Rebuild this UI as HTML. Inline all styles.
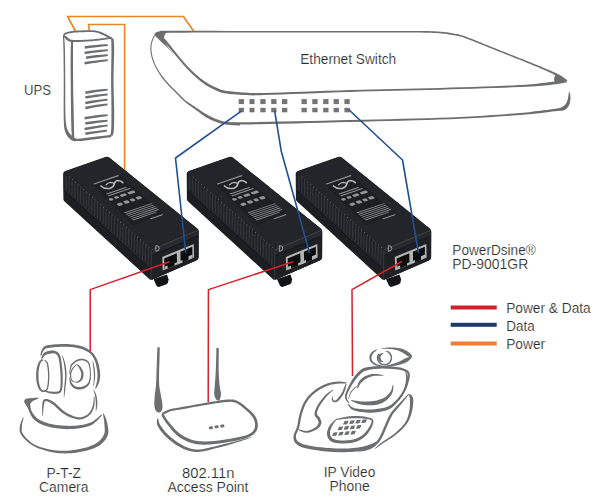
<!DOCTYPE html>
<html><head><meta charset="utf-8">
<style>
html,body{margin:0;padding:0;background:#fff;}
body{width:600px;height:502px;overflow:hidden;position:relative;}
svg{position:absolute;left:0;top:0;}
text{font-family:"Liberation Sans",sans-serif;fill:#2b2b2b;stroke:#fff;stroke-width:0.18px;}
</style></head>
<body>
<svg width="600" height="502" viewBox="0 0 600 502">
<defs>
<g id="inj">
  <!-- tab -->
  <path d="M153.5,279 L167,274.5 L168.6,279.5 Q168.3,283.3 166.5,284.2 L159.5,286.8 Q157.6,287.3 156.4,285.5 Z" fill="#131416"/>
  <!-- silhouette -->
  <path d="M63.2,173.5 Q63.3,171.6 65.5,170.9 L105.5,157.0 Q108,156.3 110,158 L197.4,228.5 Q198.7,229.6 198.7,231.5 L198.6,257.3 Q198.5,259.7 196.2,260.4 L153,279.3 Q151,280.3 149.5,279.2 L64.6,201.5 Q63.4,200.5 63.4,199 Z" fill="#1c1e22"/>
  <!-- top face -->
  <path d="M64.2,172.4 Q64.5,171.5 66,171 L105.5,157.3 Q107.8,156.7 109.6,158.2 L197.1,228.8 Q198,229.5 196.8,230 L152.5,249.1 Q151.4,249.5 150.5,248.8 L64.8,173.8 Q63.9,173.1 64.2,172.4 Z" fill="#23252a"/>
  <!-- label sticker darker -->
  <path d="M91.5,183.8 L119,175.3 L162.5,212.8 L133.5,225.5 Z" fill="#1d1f23"/>
  <!-- ribbed band -->
  <path d="M63.5,173.5 L151.4,249.4 L151,268 L63.6,188.5 Z" fill="#202227"/>
  <path d="M66.3,175.6L66.4,190.1M69.2,178.1L69.2,192.6M72.0,180.6L72.1,195.2M74.8,183.2L74.9,197.8M77.7,185.7L77.7,200.3M80.5,188.2L80.5,202.9M83.3,190.7L83.3,205.5M86.2,193.2L86.2,208.0M89.0,195.7L89.0,210.6M91.9,198.2L91.8,213.1M94.7,200.7L94.6,215.7M97.5,203.3L97.4,218.3M100.4,205.8L100.3,220.8M103.2,208.3L103.1,223.4M106.0,210.8L105.9,226.0M108.9,213.3L108.7,228.5M111.7,215.8L111.5,231.1M114.5,218.3L114.3,233.7M117.4,220.8L117.2,236.2M120.2,223.4L120.0,238.8M123.0,225.9L122.8,241.4M125.9,228.4L125.6,243.9M128.7,230.9L128.4,246.5M131.6,233.4L131.3,249.0M134.4,235.9L134.1,251.6M137.2,238.4L136.9,254.2M140.1,240.9L139.7,256.7M142.9,243.5L142.5,259.3M145.7,246.0L145.4,261.9M148.6,248.5L148.2,264.4" stroke="#373a40" stroke-width="0.9" fill="none"/>
  <path d="M69.2,176.8l0.8,0.7M72.0,179.3l0.8,0.7M74.8,181.9l0.8,0.7M77.7,184.4l0.8,0.7M80.5,186.9l0.8,0.7M83.3,189.4l0.8,0.7M86.2,191.9l0.8,0.7M89.0,194.4l0.8,0.7M91.9,196.9l0.8,0.7M94.7,199.4l0.8,0.7M97.5,202.0l0.8,0.7M100.4,204.5l0.8,0.7M103.2,207.0l0.8,0.7M106.0,209.5l0.8,0.7M108.9,212.0l0.8,0.7M111.7,214.5l0.8,0.7M114.5,217.0l0.8,0.7M117.4,219.5l0.8,0.7M120.2,222.1l0.8,0.7M123.0,224.6l0.8,0.7M125.9,227.1l0.8,0.7M128.7,229.6l0.8,0.7M131.6,232.1l0.8,0.7M134.4,234.6l0.8,0.7M137.2,237.1l0.8,0.7M140.1,239.6l0.8,0.7M142.9,242.2l0.8,0.7M145.7,244.7l0.8,0.7M148.6,247.2l0.8,0.7" stroke="#767980" stroke-width="0.9" fill="none"/>
  <!-- ledge -->
  <path d="M63.6,188.8 L151,268.3" stroke="#2f3237" stroke-width="0.9" fill="none"/>
  <path d="M63.6,190 L151,269.5" stroke="#141518" stroke-width="0.9" fill="none"/>
  <!-- end face -->
  <path d="M151.4,249.4 L197.4,229.7 Q198.7,229.8 198.7,231.5 L198.6,257.3 Q198.5,259.7 196.2,260.4 L152.5,279.6 Q151,279.8 151,278.5 Z" fill="#1e2024"/>
  <path d="M151.6,250 L198.2,230.3 L198.3,235.6 L151.7,255.5 Z" fill="#26292e"/>
  <path d="M151.6,249.8 L198.2,230.1" stroke="#50535a" stroke-width="0.7" fill="none"/>
  <path d="M151.7,255.8 L198.3,235.9" stroke="#121316" stroke-width="0.7" fill="none"/>
  <path d="M151.3,249.4 L151,279" stroke="#3b3e44" stroke-width="0.8" fill="none"/>
  <!-- D mark -->
  <path d="M155.8,245.6 L155.9,251.3 M155.9,245.6 Q159.3,245.5 159.3,248.3 Q159.3,251.1 155.9,251.3" stroke="#a6a8ac" stroke-width="0.9" fill="none"/>
  <!-- ports -->
  <path d="M162.3,256.9 L193.8,243.9 L194.1,257.6 L162.7,270.4 Z" fill="#b4b6b4"/>
  <path d="M164.2,258.4 L176.8,253.2 L177.1,264.6 L164.5,269.8 Z" fill="#0c0d0f"/>
  <path d="M180.4,251.7 L192.3,246.8 L192.5,258.3 L180.6,263.2 Z" fill="#0c0d0f"/>
  <path d="M164.5,266.8 L167.6,265.5 L167.7,268.6 L164.6,269.8 Z" fill="#b4b6b4"/>
  <path d="M174.5,263.2 L182.5,259.9 L182.6,262.4 L174.6,265.6 Z" fill="#b4b6b4"/>
  <path d="M188.5,256.2 L192.5,254.6 L192.5,258.3 L188.5,259.9 Z" fill="#b4b6b4"/>
  <path d="M101,186 Q104,189.2 110,188.3 Q113.8,187.2 114.4,183.4 Q115.4,180.6 118,180.5 Q121,180.7 122.8,182.6" fill="none" stroke="#b3b6ba" stroke-width="1.7" stroke-linecap="round"/>
  <path d="M106,184.8 Q108,182.4 111,182.3 Q113.3,182.4 114,183.6" fill="none" stroke="#b3b6ba" stroke-width="1.3" stroke-linecap="round"/>
  <!-- label contents (local coords on top face) -->
  <g transform="matrix(0.946,-0.3226,0.7513,0.659,63.5,171.5)" fill="#929498">
    <rect x="12" y="24.3" width="26.5" height="1.4"/>
    <rect x="13" y="40" width="21" height="1.3"/>
    <rect x="13" y="42.6" width="23" height="1.3"/>
    <rect x="10" y="46.5" width="4" height="3.2" rx="1.4"/>
    <rect x="16" y="46.5" width="4" height="3.2" rx="1"/>
    <rect x="22" y="46.5" width="6" height="3.2" rx="1"/>
    <rect x="30" y="46.5" width="7" height="3.2" rx="1"/>
    <rect x="12" y="55" width="5" height="3.6" rx="1.5"/>
    <rect x="19" y="55" width="5" height="3.6" rx="1"/>
    <rect x="26" y="55" width="4" height="3.6" rx="1"/>
    <rect x="32" y="55" width="5" height="3.6" rx="1"/>
    <rect x="10.5" y="67.5" width="29" height="0.9"/>
    <rect x="10.5" y="69.7" width="29" height="0.9"/>
    <rect x="10.5" y="71.9" width="29" height="0.9"/>
    <rect x="10.5" y="74.1" width="29" height="0.9"/>
    <rect x="10.5" y="76.3" width="29" height="0.9"/>
    <rect x="10.5" y="78.5" width="25" height="0.9"/>
    <rect x="25" y="83.5" width="13" height="1.2"/>
  </g>
</g>
</defs>

<!-- orange power lines -->
<g fill="none" stroke="#ec8624" stroke-width="1.7">
  <path d="M75.6,31.5 L67.7,16.5 L183.5,16.5 L193.5,31"/>
  <path d="M89.4,31 L88.5,24.5 L124.6,24.5 L124.6,171"/>
</g>

<!-- DEVICES -->
<path d="M62.90,35.53 L62.95,36.55 L63.01,37.78 L63.08,39.24 L63.16,40.91 L63.24,42.83 L63.32,44.98 L63.39,47.37 L63.45,50.02 L63.50,53.02 L63.55,56.42 L63.60,60.12 L63.64,64.04 L63.68,68.07 L63.71,72.14 L63.73,76.15 L63.75,80.00 L63.76,83.86 L63.75,87.87 L63.73,91.95 L63.71,96.00 L63.69,99.92 L63.68,103.63 L63.67,107.02 L63.68,110.01 L63.69,112.58 L63.70,114.80 L63.72,116.75 L63.74,118.47 L63.78,120.01 L63.82,121.43 L63.88,122.77 L63.95,124.10 L64.04,125.35 L64.13,126.46 L64.23,127.44 L64.35,128.34 L64.50,129.18 L64.67,129.97 L64.87,130.75 L65.10,131.54 L65.38,132.35 L65.69,133.14 L66.04,133.89 L66.41,134.62 L66.81,135.31 L67.24,135.96 L67.67,136.58 L68.14,137.17 L68.62,137.75 L69.13,138.31 L69.67,138.83 L70.23,139.32 L70.81,139.78 L71.41,140.18 L72.04,140.52 L72.72,140.82 L73.47,141.04 L74.26,141.14 L75.04,141.16 L75.77,141.13 L76.45,141.06 L77.04,140.98 L77.52,140.92 L77.88,140.89 L78.12,139.71 L77.77,139.54 L77.32,139.32 L76.79,139.06 L76.23,138.77 L75.66,138.47 L75.13,138.15 L74.67,137.85 L74.28,137.58 L73.90,137.30 L73.47,137.00 L73.03,136.69 L72.59,136.36 L72.14,136.02 L71.70,135.65 L71.28,135.25 L70.86,134.83 L70.46,134.37 L70.05,133.89 L69.66,133.38 L69.27,132.86 L68.90,132.31 L68.55,131.73 L68.22,131.12 L67.90,130.46 L67.60,129.79 L67.33,129.14 L67.07,128.48 L66.83,127.78 L66.61,127.01 L66.41,126.12 L66.22,125.10 L66.05,123.90 L65.89,122.62 L65.77,121.31 L65.66,119.92 L65.57,118.41 L65.50,116.71 L65.43,114.77 L65.38,112.55 L65.32,109.99 L65.29,107.01 L65.27,103.62 L65.26,99.92 L65.26,96.00 L65.27,91.96 L65.27,87.88 L65.27,83.86 L65.25,80.00 L65.23,76.14 L65.20,72.13 L65.18,68.06 L65.15,64.02 L65.11,60.11 L65.07,56.40 L65.02,53.00 L64.95,49.98 L64.86,47.32 L64.76,44.92 L64.63,42.75 L64.51,40.84 L64.38,39.15 L64.26,37.70 L64.17,36.48 L64.10,35.47Z" fill="#6d6e70"/>
<path d="M64.05,36.45 L64.12,36.34 L64.20,36.19 L64.30,36.03 L64.41,35.87 L64.52,35.70 L64.64,35.55 L64.75,35.41 L64.87,35.28 L65.01,35.11 L65.14,34.94 L65.24,34.81 L65.33,34.71 L65.42,34.63 L65.54,34.54 L65.71,34.44 L65.96,34.32 L66.31,34.19 L66.74,34.04 L67.22,33.89 L67.76,33.74 L68.33,33.59 L68.92,33.44 L69.54,33.31 L70.17,33.18 L70.77,33.07 L71.32,32.97 L71.85,32.88 L72.41,32.80 L73.06,32.72 L73.83,32.65 L74.78,32.57 L75.95,32.50 L77.43,32.42 L79.23,32.33 L81.23,32.24 L83.35,32.16 L85.46,32.09 L87.48,32.04 L89.29,32.00 L90.79,32.00 L92.00,32.02 L93.01,32.06 L93.85,32.12 L94.58,32.20 L95.22,32.29 L95.83,32.41 L96.45,32.53 L97.10,32.68 L97.74,32.84 L98.33,33.02 L98.89,33.21 L99.42,33.42 L99.95,33.65 L100.49,33.89 L101.04,34.14 L101.61,34.39 L102.19,34.65 L102.78,34.93 L103.37,35.22 L103.97,35.51 L104.57,35.81 L105.15,36.11 L105.72,36.40 L106.26,36.67 L106.79,36.93 L107.31,37.19 L107.81,37.44 L108.29,37.67 L108.74,37.90 L109.16,38.12 L109.54,38.33 L109.88,38.52 L110.18,38.71 L110.46,38.90 L110.73,39.09 L110.97,39.28 L111.20,39.46 L111.41,39.63 L111.59,39.79 L111.75,39.91 L112.85,38.69 L112.74,38.57 L112.60,38.40 L112.41,38.20 L112.19,37.96 L111.93,37.69 L111.63,37.42 L111.29,37.14 L110.92,36.88 L110.52,36.63 L110.09,36.39 L109.64,36.15 L109.16,35.91 L108.67,35.67 L108.17,35.43 L107.65,35.18 L107.14,34.93 L106.60,34.66 L106.04,34.37 L105.45,34.07 L104.85,33.76 L104.24,33.46 L103.62,33.16 L103.00,32.87 L102.39,32.61 L101.81,32.36 L101.25,32.13 L100.68,31.90 L100.10,31.68 L99.50,31.46 L98.87,31.27 L98.20,31.08 L97.50,30.92 L96.82,30.78 L96.17,30.65 L95.51,30.53 L94.80,30.42 L94.01,30.34 L93.11,30.27 L92.05,30.22 L90.81,30.20 L89.27,30.20 L87.43,30.24 L85.40,30.29 L83.28,30.36 L81.16,30.45 L79.15,30.53 L77.34,30.62 L75.85,30.70 L74.66,30.78 L73.68,30.85 L72.87,30.93 L72.18,31.01 L71.57,31.10 L71.00,31.20 L70.44,31.30 L69.83,31.42 L69.18,31.54 L68.52,31.68 L67.89,31.83 L67.28,31.99 L66.70,32.15 L66.17,32.32 L65.68,32.50 L65.24,32.68 L64.85,32.87 L64.51,33.09 L64.23,33.32 L64.01,33.56 L63.84,33.79 L63.72,33.99 L63.63,34.15 L63.53,34.32 L63.40,34.55 L63.28,34.80 L63.19,35.06 L63.12,35.29 L63.06,35.51 L63.01,35.70 L62.98,35.85 L62.95,35.95Z" fill="#6d6e70"/>
<path d="M63.66,35.79 L63.72,35.95 L63.79,36.17 L63.89,36.43 L64.00,36.72 L64.13,37.04 L64.30,37.37 L64.49,37.70 L64.71,38.00 L64.93,38.28 L65.17,38.57 L65.44,38.87 L65.74,39.19 L66.09,39.51 L66.47,39.82 L66.90,40.13 L67.32,40.38 L67.59,40.55 L67.81,40.71 L68.13,40.96 L68.60,41.26 L69.21,41.53 L69.95,41.72 L70.87,41.86 L72.03,41.95 L73.51,41.99 L75.29,41.99 L77.29,41.96 L79.45,41.90 L81.69,41.82 L83.92,41.72 L86.07,41.61 L88.05,41.50 L89.95,41.37 L91.86,41.21 L93.76,41.03 L95.62,40.83 L97.41,40.64 L99.11,40.44 L100.68,40.26 L102.10,40.09 L103.40,39.94 L104.57,39.77 L105.64,39.61 L106.60,39.46 L107.47,39.32 L108.24,39.20 L108.93,39.10 L109.55,39.02 L110.06,38.98 L110.47,38.95 L110.79,38.94 L111.05,38.95 L111.27,38.96 L111.48,38.99 L111.70,39.02 L111.89,39.04 L112.11,38.16 L111.99,38.10 L111.85,38.00 L111.66,37.87 L111.39,37.73 L111.04,37.59 L110.60,37.47 L110.08,37.40 L109.45,37.38 L108.76,37.41 L108.02,37.48 L107.21,37.59 L106.34,37.71 L105.38,37.85 L104.33,38.00 L103.17,38.16 L101.90,38.31 L100.47,38.47 L98.90,38.65 L97.21,38.85 L95.43,39.05 L93.59,39.25 L91.71,39.43 L89.82,39.58 L87.95,39.70 L85.98,39.79 L83.85,39.87 L81.63,39.94 L79.41,39.98 L77.27,39.99 L75.29,39.98 L73.56,39.93 L72.17,39.85 L71.16,39.73 L70.47,39.57 L70.05,39.40 L69.83,39.24 L69.67,39.08 L69.46,38.85 L69.12,38.53 L68.68,38.22 L68.31,37.99 L68.00,37.78 L67.72,37.56 L67.43,37.33 L67.15,37.09 L66.87,36.85 L66.58,36.61 L66.29,36.40 L66.01,36.22 L65.74,36.05 L65.46,35.88 L65.19,35.72 L64.93,35.57 L64.70,35.43 L64.50,35.31 L64.34,35.21Z" fill="#6d6e70"/>
<path d="M70.95,41.49 L70.92,42.83 L70.87,44.54 L70.82,46.56 L70.76,48.86 L70.71,51.39 L70.66,54.12 L70.62,57.01 L70.60,60.00 L70.60,63.20 L70.61,66.70 L70.63,70.41 L70.66,74.29 L70.69,78.25 L70.73,82.24 L70.76,86.18 L70.80,90.01 L70.83,93.86 L70.87,97.82 L70.91,101.84 L70.95,105.83 L70.99,109.73 L71.04,113.44 L71.09,116.90 L71.15,120.03 L71.22,122.90 L71.31,125.60 L71.40,128.11 L71.50,130.42 L71.59,132.48 L71.68,134.29 L71.75,135.82 L71.80,137.04 L74.20,136.96 L74.17,135.74 L74.14,134.21 L74.11,132.40 L74.06,130.33 L74.02,128.03 L73.97,125.53 L73.91,122.83 L73.85,119.97 L73.78,116.85 L73.70,113.39 L73.61,109.68 L73.52,105.79 L73.42,101.80 L73.34,97.79 L73.26,93.82 L73.20,89.99 L73.15,86.16 L73.11,82.22 L73.08,78.24 L73.06,74.27 L73.04,70.40 L73.02,66.69 L73.01,63.20 L73.00,60.00 L72.99,57.02 L73.00,54.14 L73.00,51.42 L73.01,48.89 L73.02,46.59 L73.04,44.57 L73.04,42.86 L73.05,41.51Z" fill="#6d6e70"/>
<path d="M111.10,38.57 L111.13,39.34 L111.18,40.23 L111.24,41.25 L111.30,42.46 L111.36,43.89 L111.40,45.60 L111.44,47.62 L111.45,50.00 L111.44,52.85 L111.40,56.17 L111.34,59.87 L111.28,63.81 L111.21,67.91 L111.15,72.05 L111.12,76.11 L111.10,80.00 L111.11,83.83 L111.15,87.75 L111.21,91.72 L111.27,95.65 L111.34,99.51 L111.39,103.23 L111.43,106.75 L111.45,110.01 L111.45,113.08 L111.44,116.03 L111.42,118.85 L111.39,121.50 L111.35,123.96 L111.30,126.20 L111.23,128.19 L111.15,129.91 L111.05,131.29 L110.91,132.34 L110.77,133.12 L110.62,133.70 L110.48,134.13 L110.33,134.52 L110.17,134.93 L110.05,135.34 L112.35,136.06 L112.44,135.78 L112.58,135.51 L112.79,135.08 L113.04,134.50 L113.29,133.75 L113.51,132.79 L113.71,131.58 L113.85,130.09 L113.95,128.31 L114.03,126.28 L114.09,124.02 L114.13,121.54 L114.16,118.87 L114.17,116.04 L114.17,113.08 L114.15,109.99 L114.11,106.71 L114.02,103.18 L113.92,99.45 L113.80,95.60 L113.69,91.66 L113.59,87.71 L113.53,83.81 L113.50,80.00 L113.53,76.14 L113.60,72.09 L113.71,67.96 L113.82,63.87 L113.94,59.92 L114.05,56.23 L114.12,52.88 L114.15,50.00 L114.13,47.58 L114.06,45.51 L113.97,43.76 L113.86,42.29 L113.75,41.06 L113.64,40.04 L113.56,39.18 L113.50,38.43Z" fill="#6d6e70"/>
<path d="M73.42,140.40 L73.85,140.46 L74.35,140.56 L74.97,140.68 L75.72,140.81 L76.59,140.92 L77.61,141.00 L78.77,141.04 L80.08,141.00 L81.58,140.89 L83.26,140.72 L85.10,140.50 L87.05,140.25 L89.07,139.98 L91.12,139.71 L93.16,139.44 L95.15,139.19 L97.22,138.94 L99.49,138.66 L101.85,138.37 L104.18,138.08 L106.41,137.80 L108.41,137.55 L110.09,137.35 L111.35,137.19 L111.05,134.81 L109.79,134.96 L108.11,135.17 L106.11,135.42 L103.89,135.70 L101.55,135.99 L99.20,136.28 L96.93,136.55 L94.85,136.81 L92.86,137.06 L90.81,137.32 L88.76,137.58 L86.74,137.83 L84.80,138.07 L82.99,138.29 L81.34,138.47 L79.92,138.60 L78.70,138.69 L77.64,138.73 L76.72,138.73 L75.91,138.72 L75.21,138.69 L74.59,138.65 L74.04,138.62 L73.58,138.60Z" fill="#6d6e70"/>
<path d="M84.95,48.63 L87.93,48.25 L92.18,47.72 L96.42,47.21 L100.65,46.75 L104.90,46.31 L107.87,46.01 L107.73,44.19 L104.74,44.35 L100.47,44.58 L96.18,44.89 L91.90,45.32 L87.63,45.82 L84.65,46.17Z" fill="#6d6e70"/>
<path d="M84.67,54.12 L87.69,53.70 L91.99,53.09 L96.28,52.51 L100.57,51.98 L104.87,51.46 L107.88,51.11 L107.72,49.29 L104.69,49.50 L100.36,49.81 L96.02,50.19 L91.68,50.70 L87.35,51.27 L84.33,51.68Z" fill="#6d6e70"/>
<path d="M86.17,58.92 L88.99,58.52 L93.02,57.96 L97.03,57.41 L101.04,56.91 L105.06,56.44 L107.88,56.11 L107.72,54.29 L104.88,54.48 L100.83,54.75 L96.77,55.09 L92.71,55.56 L88.66,56.10 L85.83,56.48Z" fill="#6d6e70"/>
<path d="M84.69,64.52 L87.71,64.04 L92.01,63.36 L96.30,62.71 L100.59,62.10 L104.89,61.51 L107.90,61.10 L107.70,59.30 L104.67,59.56 L100.34,59.94 L96.00,60.39 L91.66,60.97 L87.33,61.62 L84.31,62.08Z" fill="#6d6e70"/>
<path d="M85.50,93.92 L88.39,93.44 L92.51,92.76 L96.61,92.11 L100.71,91.50 L104.82,90.91 L107.70,90.50 L107.50,88.70 L104.59,88.96 L100.45,89.34 L96.29,89.79 L92.14,90.37 L88.00,91.02 L85.10,91.48Z" fill="#6d6e70"/>
<path d="M85.49,98.62 L88.38,98.17 L92.50,97.53 L96.60,96.91 L100.70,96.34 L104.81,95.79 L107.70,95.40 L107.50,93.60 L104.60,93.83 L100.46,94.18 L96.30,94.59 L92.15,95.14 L88.01,95.75 L85.11,96.18Z" fill="#6d6e70"/>
<path d="M85.51,104.22 L88.40,103.70 L92.52,102.97 L96.63,102.26 L100.73,101.59 L104.84,100.95 L107.72,100.50 L107.48,98.70 L104.58,99.00 L100.43,99.44 L96.27,99.94 L92.12,100.58 L87.98,101.29 L85.09,101.78Z" fill="#6d6e70"/>
<path d="M85.53,109.21 L88.42,108.66 L92.54,107.87 L96.64,107.10 L100.74,106.39 L104.85,105.69 L107.73,105.20 L107.47,103.40 L104.57,103.74 L100.42,104.23 L96.26,104.80 L92.10,105.49 L87.96,106.25 L85.07,106.79Z" fill="#6d6e70"/>
<path d="M84.80,119.52 L87.78,119.03 L92.03,118.33 L96.26,117.66 L100.49,117.03 L104.73,116.43 L107.71,116.00 L107.49,114.20 L104.50,114.47 L100.23,114.87 L95.94,115.34 L91.66,115.94 L87.39,116.61 L84.40,117.08Z" fill="#6d6e70"/>
<path d="M85.48,124.72 L88.37,124.28 L92.49,123.66 L96.60,123.06 L100.70,122.51 L104.81,121.98 L107.69,121.61 L107.51,119.79 L104.61,120.02 L100.46,120.34 L96.30,120.74 L92.15,121.27 L88.01,121.86 L85.12,122.28Z" fill="#6d6e70"/>
<path d="M84.81,130.22 L87.79,129.69 L92.04,128.93 L96.28,128.21 L100.51,127.52 L104.75,126.86 L107.72,126.40 L107.48,124.60 L104.49,124.91 L100.21,125.37 L95.92,125.89 L91.64,126.55 L87.37,127.27 L84.39,127.78Z" fill="#6d6e70"/>
<path d="M85.50,135.02 L88.31,134.54 L92.32,133.86 L96.32,133.21 L100.30,132.60 L104.30,132.01 L107.11,131.60 L106.89,129.80 L104.07,130.06 L100.03,130.44 L95.98,130.89 L91.94,131.48 L87.91,132.12 L85.10,132.58Z" fill="#6d6e70"/>
<path d="M155.56,35.70 L155.94,35.52 L156.40,35.28 L156.90,35.02 L157.45,34.75 L158.06,34.48 L158.72,34.22 L159.44,33.99 L160.32,33.78 L161.16,33.48 L161.41,31.34 L161.15,31.24 L160.61,33.16 L160.97,33.08 L162.49,32.97 L165.38,32.88 L170.01,32.79 L176.52,32.71 L184.61,32.65 L194.00,32.60 L204.38,32.57 L215.46,32.54 L226.95,32.51 L238.56,32.49 L250.00,32.47 L261.75,32.45 L274.30,32.44 L287.35,32.44 L300.62,32.44 L313.82,32.44 L326.64,32.45 L338.80,32.46 L350.00,32.47 L360.53,32.48 L370.78,32.49 L380.64,32.49 L390.00,32.50 L398.73,32.52 L406.72,32.54 L413.84,32.58 L419.99,32.62 L424.94,32.68 L428.69,32.74 L431.49,32.81 L433.59,32.88 L435.23,32.97 L436.67,33.07 L438.16,33.19 L439.94,33.32 L441.82,33.47 L443.49,33.64 L445.01,33.82 L446.43,34.01 L447.77,34.21 L449.10,34.43 L450.45,34.67 L451.86,34.91 L453.24,35.13 L454.47,35.31 L455.63,35.47 L456.79,35.66 L458.03,35.90 L459.44,36.24 L461.09,36.70 L463.05,37.33 L465.38,38.15 L468.03,39.14 L470.91,40.27 L473.96,41.49 L477.11,42.76 L480.28,44.05 L483.41,45.31 L486.42,46.52 L489.33,47.67 L492.25,48.83 L495.16,49.99 L498.07,51.16 L500.98,52.32 L503.89,53.48 L506.80,54.65 L509.71,55.82 L512.66,56.99 L515.65,58.18 L518.65,59.37 L521.65,60.56 L524.61,61.75 L527.50,62.91 L530.30,64.05 L532.99,65.16 L535.61,66.26 L538.22,67.37 L540.78,68.47 L543.25,69.54 L545.61,70.58 L547.81,71.56 L549.81,72.47 L551.59,73.30 L553.09,74.03 L554.32,74.67 L555.34,75.24 L556.22,75.75 L557.00,76.23 L557.76,76.69 L558.54,77.16 L559.40,77.65 L560.33,78.16 L561.29,78.68 L562.27,79.20 L563.22,79.71 L564.11,80.19 L564.90,80.62 L565.58,80.98 L566.09,81.25 L566.91,79.95 L566.44,79.61 L565.83,79.16 L565.10,78.61 L564.28,78.01 L563.40,77.38 L562.47,76.74 L561.53,76.12 L560.60,75.55 L559.75,75.06 L558.96,74.61 L558.16,74.19 L557.31,73.75 L556.36,73.29 L555.26,72.78 L553.96,72.19 L552.41,71.50 L550.60,70.71 L548.56,69.83 L546.34,68.89 L543.96,67.89 L541.46,66.85 L538.88,65.79 L536.25,64.71 L533.61,63.64 L530.91,62.55 L528.10,61.42 L525.19,60.27 L522.23,59.10 L519.23,57.92 L516.22,56.73 L513.23,55.55 L510.29,54.38 L507.37,53.22 L504.46,52.06 L501.55,50.90 L498.64,49.73 L495.73,48.57 L492.82,47.40 L489.90,46.24 L486.98,45.08 L483.98,43.89 L480.86,42.62 L477.69,41.34 L474.54,40.06 L471.47,38.84 L468.58,37.71 L465.91,36.71 L463.55,35.87 L461.54,35.22 L459.84,34.73 L458.38,34.36 L457.08,34.09 L455.88,33.88 L454.71,33.70 L453.49,33.51 L452.14,33.29 L450.73,33.04 L449.38,32.80 L448.03,32.58 L446.66,32.37 L445.22,32.17 L443.67,31.99 L441.96,31.83 L440.06,31.68 L438.29,31.54 L436.80,31.42 L435.33,31.32 L433.66,31.23 L431.54,31.15 L428.72,31.08 L424.96,31.03 L420.01,30.98 L413.85,30.94 L406.72,30.92 L398.73,30.91 L390.00,30.91 L380.64,30.91 L370.78,30.92 L360.53,30.93 L350.00,30.93 L338.80,30.93 L326.64,30.93 L313.82,30.93 L300.62,30.93 L287.35,30.94 L274.30,30.94 L261.75,30.94 L250.00,30.93 L238.56,30.92 L226.95,30.90 L215.46,30.87 L204.37,30.85 L193.99,30.82 L184.61,30.81 L176.51,30.80 L169.99,30.81 L165.35,30.82 L162.43,30.83 L160.84,30.84 L160.02,30.90 L159.46,32.99 L159.61,33.10 L159.91,31.21 L159.68,31.22 L158.76,31.41 L157.84,31.69 L157.02,32.00 L156.30,32.33 L155.68,32.65 L155.16,32.94 L154.76,33.15 L154.44,33.30Z" fill="#6d6e70"/>
<path d="M154.72,35.78 L155.10,35.97 L155.60,36.21 L156.17,36.50 L156.81,36.82 L157.46,37.16 L158.11,37.52 L158.72,37.88 L159.29,38.24 L159.85,38.60 L160.37,38.91 L160.85,39.21 L161.33,39.52 L161.85,39.91 L162.46,40.40 L163.18,41.06 L164.03,41.90 L165.05,42.97 L166.20,44.24 L167.46,45.68 L168.80,47.23 L170.18,48.84 L171.57,50.48 L172.93,52.09 L174.24,53.63 L175.50,55.13 L176.75,56.66 L178.00,58.19 L179.25,59.73 L180.51,61.26 L181.76,62.77 L183.01,64.24 L184.27,65.66 L185.52,67.04 L186.77,68.38 L188.02,69.70 L189.27,70.98 L190.51,72.24 L191.76,73.46 L193.01,74.66 L194.26,75.82 L195.51,76.95 L196.77,78.06 L198.02,79.13 L199.28,80.18 L200.53,81.19 L201.79,82.17 L203.06,83.11 L204.32,84.00 L205.59,84.85 L206.86,85.66 L208.13,86.42 L209.39,87.15 L210.66,87.84 L211.93,88.49 L213.19,89.11 L214.45,89.70 L215.62,90.25 L216.71,90.76 L217.77,91.25 L218.89,91.72 L220.09,92.16 L221.44,92.57 L222.99,92.95 L224.77,93.30 L226.84,93.62 L229.15,93.90 L231.64,94.15 L234.27,94.37 L236.97,94.57 L239.69,94.74 L242.36,94.89 L244.93,95.01 L246.97,95.12 L248.38,95.22 L249.57,95.30 L250.90,95.36 L252.74,95.38 L255.45,95.35 L259.41,95.26 L265.03,95.10 L272.52,94.85 L281.60,94.50 L291.93,94.09 L303.16,93.63 L314.94,93.16 L326.91,92.69 L338.72,92.26 L350.03,91.88 L361.10,91.56 L372.40,91.27 L383.84,91.00 L395.33,90.75 L406.78,90.50 L418.11,90.24 L429.22,89.97 L440.03,89.68 L450.85,89.36 L461.90,89.03 L472.96,88.68 L483.78,88.33 L494.13,87.97 L503.79,87.63 L512.50,87.30 L520.05,86.99 L526.29,86.70 L531.41,86.44 L535.60,86.19 L539.09,85.94 L542.08,85.70 L544.78,85.45 L547.39,85.20 L550.16,84.92 L552.99,84.61 L555.64,84.26 L558.10,83.89 L560.33,83.53 L562.32,83.17 L564.05,82.86 L565.51,82.59 L566.68,82.40 L566.32,80.00 L565.13,80.16 L563.65,80.36 L561.91,80.60 L559.92,80.86 L557.71,81.15 L555.28,81.45 L552.65,81.76 L549.84,82.08 L547.08,82.41 L544.47,82.75 L541.80,83.12 L538.85,83.49 L535.41,83.88 L531.26,84.26 L526.18,84.64 L519.95,85.01 L512.42,85.38 L503.71,85.76 L494.07,86.14 L483.72,86.51 L472.90,86.88 L461.85,87.24 L450.79,87.59 L439.97,87.92 L429.17,88.23 L418.07,88.51 L406.74,88.77 L395.29,89.03 L383.80,89.28 L372.36,89.55 L361.06,89.82 L349.97,90.12 L338.66,90.46 L326.84,90.85 L314.87,91.26 L303.09,91.67 L291.86,92.06 L281.52,92.41 L272.45,92.70 L264.97,92.90 L259.36,93.02 L255.41,93.08 L252.74,93.08 L250.97,93.04 L249.72,92.96 L248.57,92.86 L247.14,92.73 L245.07,92.59 L242.50,92.44 L239.85,92.26 L237.15,92.06 L234.48,91.84 L231.89,91.59 L229.45,91.32 L227.20,91.02 L225.23,90.70 L223.56,90.36 L222.15,90.01 L220.94,89.64 L219.86,89.24 L218.85,88.81 L217.83,88.35 L216.74,87.84 L215.55,87.30 L214.31,86.74 L213.07,86.16 L211.84,85.55 L210.61,84.91 L209.37,84.24 L208.14,83.54 L206.91,82.79 L205.68,82.00 L204.44,81.16 L203.21,80.27 L201.97,79.35 L200.72,78.38 L199.48,77.38 L198.23,76.34 L196.99,75.28 L195.74,74.18 L194.49,73.06 L193.24,71.91 L191.99,70.73 L190.73,69.52 L189.48,68.27 L188.23,66.99 L186.98,65.68 L185.73,64.34 L184.49,62.95 L183.24,61.51 L181.99,60.03 L180.75,58.52 L179.50,56.98 L178.25,55.44 L177.00,53.90 L175.76,52.37 L174.50,50.80 L173.20,49.15 L171.88,47.45 L170.58,45.77 L169.31,44.15 L168.10,42.63 L166.98,41.27 L165.97,40.10 L165.09,39.15 L164.34,38.38 L163.66,37.75 L163.05,37.23 L162.46,36.79 L161.89,36.43 L161.33,36.10 L160.71,35.76 L159.96,35.40 L159.16,35.11 L158.35,34.87 L157.57,34.68 L156.84,34.53 L156.20,34.41 L155.67,34.31 L155.28,34.22Z" fill="#6d6e70"/>
<path d="M154.09,34.84 L153.84,35.44 L153.48,36.26 L153.04,37.23 L152.57,38.31 L152.10,39.47 L151.65,40.64 L151.26,41.79 L150.96,42.88 L150.75,43.89 L150.59,44.90 L150.46,45.90 L150.38,46.90 L150.34,47.91 L150.34,48.94 L150.38,49.98 L150.45,51.05 L150.57,52.15 L150.73,53.27 L150.94,54.41 L151.18,55.56 L151.46,56.72 L151.77,57.88 L152.11,59.03 L152.48,60.17 L152.87,61.31 L153.30,62.45 L153.76,63.58 L154.25,64.72 L154.78,65.86 L155.33,66.99 L155.91,68.13 L156.52,69.27 L157.17,70.42 L157.87,71.60 L158.61,72.78 L159.37,73.96 L160.15,75.13 L160.93,76.26 L161.71,77.36 L162.47,78.40 L163.21,79.37 L163.93,80.29 L164.65,81.16 L165.37,82.00 L166.11,82.83 L166.87,83.67 L167.67,84.54 L168.52,85.45 L169.43,86.41 L170.39,87.39 L171.39,88.39 L172.42,89.40 L173.46,90.42 L174.50,91.44 L175.53,92.46 L176.53,93.47 L177.51,94.47 L178.46,95.49 L179.41,96.52 L180.37,97.55 L181.34,98.58 L182.35,99.60 L183.40,100.61 L184.51,101.59 L185.67,102.55 L186.88,103.48 L188.13,104.39 L189.39,105.28 L190.67,106.16 L191.94,107.04 L193.20,107.92 L194.43,108.81 L195.65,109.72 L196.87,110.66 L198.09,111.61 L199.32,112.57 L200.55,113.51 L201.80,114.42 L203.05,115.30 L204.32,116.13 L205.58,116.90 L206.84,117.64 L208.11,118.34 L209.37,119.00 L210.64,119.64 L211.92,120.24 L213.19,120.80 L214.46,121.33 L215.70,121.81 L216.89,122.26 L218.07,122.67 L219.27,123.05 L220.51,123.40 L221.83,123.72 L223.24,124.02 L224.77,124.30 L226.56,124.55 L228.61,124.78 L230.80,124.97 L233.02,125.14 L235.16,125.28 L237.10,125.40 L238.72,125.51 L239.90,125.60 L240.10,123.40 L238.90,123.28 L237.28,123.13 L235.35,122.95 L233.23,122.74 L231.04,122.51 L228.89,122.26 L226.91,121.99 L225.23,121.70 L223.79,121.40 L222.47,121.08 L221.25,120.74 L220.10,120.39 L218.99,120.00 L217.88,119.59 L216.73,119.15 L215.54,118.67 L214.31,118.17 L213.08,117.64 L211.86,117.08 L210.63,116.50 L209.39,115.88 L208.16,115.24 L206.92,114.57 L205.68,113.87 L204.45,113.14 L203.20,112.36 L201.95,111.54 L200.68,110.68 L199.41,109.81 L198.13,108.93 L196.85,108.05 L195.57,107.19 L194.27,106.34 L192.97,105.50 L191.66,104.67 L190.36,103.84 L189.08,103.01 L187.84,102.16 L186.64,101.30 L185.49,100.41 L184.41,99.49 L183.37,98.54 L182.36,97.57 L181.38,96.58 L180.41,95.57 L179.45,94.56 L178.47,93.54 L177.47,92.53 L176.45,91.53 L175.41,90.51 L174.37,89.49 L173.33,88.47 L172.32,87.46 L171.33,86.47 L170.38,85.49 L169.48,84.55 L168.64,83.64 L167.85,82.78 L167.10,81.95 L166.38,81.13 L165.67,80.30 L164.97,79.45 L164.26,78.56 L163.53,77.60 L162.76,76.59 L161.97,75.52 L161.17,74.42 L160.38,73.29 L159.60,72.14 L158.85,70.99 L158.14,69.85 L157.48,68.73 L156.87,67.62 L156.30,66.51 L155.76,65.39 L155.25,64.28 L154.77,63.17 L154.32,62.05 L153.91,60.94 L153.52,59.83 L153.16,58.71 L152.83,57.58 L152.53,56.45 L152.26,55.32 L152.02,54.20 L151.82,53.09 L151.66,52.01 L151.55,50.95 L151.48,49.92 L151.44,48.92 L151.45,47.94 L151.49,46.97 L151.57,46.01 L151.69,45.06 L151.85,44.09 L152.04,43.12 L152.29,42.10 L152.64,40.99 L153.05,39.83 L153.49,38.69 L153.93,37.60 L154.33,36.62 L154.67,35.79 L154.91,35.16Z" fill="#6d6e70"/>
<path d="M224.98,124.30 L226.39,124.32 L227.69,124.38 L229.21,124.44 L231.23,124.50 L234.03,124.54 L237.89,124.55 L243.13,124.51 L250.02,124.40 L258.93,124.22 L269.75,123.98 L282.03,123.70 L295.34,123.38 L309.23,123.03 L323.27,122.68 L337.01,122.33 L350.02,121.99 L362.73,121.67 L375.73,121.35 L388.84,121.03 L401.90,120.70 L414.72,120.35 L427.14,119.99 L438.97,119.60 L450.04,119.18 L460.47,118.72 L470.48,118.22 L480.04,117.69 L489.12,117.14 L497.70,116.59 L505.73,116.04 L513.20,115.50 L520.08,114.99 L526.31,114.48 L531.90,113.96 L536.91,113.44 L541.38,112.93 L545.39,112.45 L548.98,111.99 L552.22,111.57 L555.16,111.20 L557.63,110.94 L559.52,110.79 L560.98,110.71 L562.13,110.64 L563.13,110.51 L564.07,110.26 L564.98,109.84 L565.94,109.22 L566.93,108.35 L567.77,107.29 L568.45,106.14 L568.99,104.95 L569.42,103.74 L569.76,102.55 L570.04,101.41 L570.28,100.33 L570.44,99.19 L570.48,97.99 L570.43,96.80 L570.31,95.66 L570.17,94.61 L570.02,93.67 L569.90,92.89 L569.83,92.31 L569.17,92.29 L569.07,92.89 L568.97,93.68 L568.84,94.61 L568.69,95.64 L568.51,96.70 L568.29,97.76 L568.03,98.75 L567.72,99.67 L567.38,100.64 L567.01,101.69 L566.62,102.75 L566.20,103.77 L565.74,104.71 L565.23,105.54 L564.69,106.22 L564.06,106.78 L563.44,107.21 L562.94,107.49 L562.45,107.69 L561.75,107.86 L560.71,108.02 L559.27,108.21 L557.35,108.45 L554.84,108.80 L551.90,109.24 L548.67,109.72 L545.10,110.24 L541.12,110.78 L536.67,111.34 L531.69,111.90 L526.13,112.46 L519.92,113.01 L513.06,113.57 L505.60,114.14 L497.57,114.73 L489.00,115.32 L479.93,115.89 L470.38,116.44 L460.38,116.96 L449.96,117.42 L438.90,117.83 L427.08,118.21 L414.67,118.54 L401.85,118.85 L388.80,119.15 L375.68,119.43 L362.68,119.72 L349.98,120.01 L336.96,120.32 L323.22,120.64 L309.18,120.96 L295.29,121.27 L281.98,121.56 L269.70,121.82 L258.89,122.04 L249.98,122.20 L243.10,122.30 L237.89,122.33 L234.04,122.33 L231.27,122.29 L229.29,122.23 L227.78,122.17 L226.45,122.12 L225.02,122.10Z" fill="#6d6e70"/>
<path d="M154.3,34.7 Q156,32.6 160,32.1 L168,31.6 Q164,33.6 164,38.5 Q164.6,44 170,49.5 L175.2,55 L168,48.2 Q160,41 154.3,34.7 Z" fill="#6d6e70"/>
<path d="M556,74.3 Q562,77.6 567.6,80.9 Q562,82.6 555.3,83 Q552.6,79 556,74.3 Z" fill="#6d6e70"/>
<path d="M568.8,91.5 Q570.5,96 570,101 Q569.5,106.5 565,108.8 Q562,110 556,110.5 L530,113.2 L530,112 L556,109.3 Q565,107.5 567.6,101 Q569,96.5 568.8,91.5 Z" fill="#6d6e70"/>
<path d="M41.26,355.68 L41.46,355.20 L41.72,354.56 L42.01,353.80 L42.34,352.98 L42.71,352.15 L43.10,351.38 L43.50,350.72 L43.93,350.18 L44.35,349.70 L44.72,349.26 L45.02,348.96 L45.29,348.75 L45.63,348.57 L46.17,348.37 L46.98,348.15 L48.14,347.93 L49.72,347.70 L51.68,347.47 L53.92,347.26 L56.34,347.07 L58.84,346.91 L61.31,346.80 L63.65,346.75 L65.78,346.75 L67.74,346.82 L69.68,346.93 L71.56,347.10 L73.39,347.32 L75.15,347.57 L76.82,347.85 L78.40,348.17 L79.86,348.51 L81.21,348.87 L82.45,349.28 L83.60,349.72 L84.68,350.19 L85.69,350.69 L86.65,351.22 L87.56,351.76 L88.41,352.30 L89.19,352.84 L89.87,353.37 L90.49,353.91 L91.05,354.47 L91.57,355.06 L92.06,355.69 L92.55,356.38 L93.03,357.11 L93.49,357.89 L93.92,358.70 L94.32,359.54 L94.70,360.42 L95.05,361.34 L95.37,362.30 L95.68,363.30 L95.96,364.34 L96.23,365.45 L96.49,366.64 L96.72,367.90 L96.93,369.18 L97.11,370.47 L97.26,371.73 L97.38,372.94 L97.45,374.06 L97.49,375.11 L97.48,376.13 L97.44,377.11 L97.37,378.08 L97.27,379.02 L97.16,379.94 L97.02,380.85 L96.88,381.73 L96.72,382.62 L96.50,383.55 L96.24,384.50 L95.97,385.44 L95.69,386.32 L95.44,387.12 L95.22,387.80 L95.06,388.32 L95.94,388.68 L96.19,388.22 L96.54,387.61 L96.97,386.88 L97.43,386.06 L97.91,385.16 L98.37,384.22 L98.79,383.24 L99.12,382.27 L99.37,381.32 L99.59,380.37 L99.79,379.38 L99.94,378.36 L100.06,377.31 L100.14,376.22 L100.17,375.10 L100.15,373.94 L100.08,372.72 L99.95,371.43 L99.78,370.10 L99.57,368.76 L99.33,367.41 L99.05,366.10 L98.75,364.84 L98.44,363.66 L98.10,362.55 L97.73,361.49 L97.34,360.46 L96.92,359.48 L96.47,358.53 L95.99,357.61 L95.49,356.73 L94.97,355.89 L94.44,355.09 L93.91,354.33 L93.36,353.60 L92.77,352.90 L92.12,352.22 L91.42,351.56 L90.64,350.92 L89.79,350.30 L88.88,349.68 L87.92,349.07 L86.90,348.47 L85.81,347.88 L84.63,347.32 L83.36,346.79 L82.00,346.32 L80.54,345.89 L78.98,345.52 L77.32,345.18 L75.57,344.88 L73.74,344.62 L71.83,344.41 L69.87,344.24 L67.87,344.12 L65.82,344.05 L63.63,344.04 L61.22,344.09 L58.70,344.19 L56.16,344.33 L53.69,344.52 L51.39,344.74 L49.35,344.99 L47.66,345.27 L46.33,345.59 L45.28,345.94 L44.43,346.36 L43.77,346.86 L43.27,347.41 L42.92,347.95 L42.63,348.45 L42.27,349.02 L41.84,349.76 L41.47,350.64 L41.17,351.57 L40.91,352.50 L40.69,353.39 L40.51,354.19 L40.37,354.85 L40.24,355.32Z" fill="#6d6e70"/>
<path d="M92.53,361.05 L92.60,361.58 L92.70,362.28 L92.81,363.10 L92.94,364.02 L93.07,365.01 L93.19,366.03 L93.30,367.06 L93.40,368.07 L93.48,369.09 L93.57,370.17 L93.66,371.28 L93.74,372.42 L93.81,373.57 L93.86,374.72 L93.89,375.86 L93.89,376.98 L93.86,378.15 L93.80,379.41 L93.70,380.71 L93.60,382.01 L93.48,383.23 L93.38,384.34 L93.29,385.27 L93.23,385.97 L93.77,386.03 L93.88,385.34 L94.05,384.43 L94.25,383.34 L94.47,382.12 L94.68,380.83 L94.87,379.51 L95.02,378.23 L95.11,377.02 L95.14,375.86 L95.14,374.69 L95.10,373.51 L95.04,372.33 L94.95,371.18 L94.85,370.05 L94.73,368.97 L94.60,367.93 L94.45,366.90 L94.25,365.86 L94.03,364.84 L93.80,363.86 L93.57,362.95 L93.36,362.15 L93.19,361.47 L93.07,360.95Z" fill="#6d6e70"/>
<path d="M93.25,389.60 L93.40,390.11 L93.61,390.77 L93.86,391.56 L94.13,392.43 L94.40,393.36 L94.66,394.32 L94.89,395.26 L95.08,396.16 L95.22,397.07 L95.36,398.03 L95.48,399.03 L95.58,400.04 L95.67,401.07 L95.75,402.08 L95.81,403.06 L95.86,404.00 L95.89,404.95 L95.89,405.94 L95.87,406.95 L95.85,407.95 L95.81,408.88 L95.78,409.72 L95.75,410.43 L95.73,410.97 L96.27,411.03 L96.36,410.50 L96.50,409.81 L96.67,408.98 L96.85,408.05 L97.03,407.06 L97.18,406.03 L97.29,404.99 L97.34,404.00 L97.35,403.01 L97.32,401.99 L97.26,400.95 L97.18,399.89 L97.06,398.84 L96.92,397.80 L96.74,396.80 L96.52,395.84 L96.25,394.88 L95.89,393.92 L95.49,392.97 L95.07,392.07 L94.66,391.23 L94.29,390.49 L93.98,389.88 L93.75,389.40Z" fill="#6d6e70"/>
<path d="M41.66,359.88 L41.94,359.46 L42.29,358.87 L42.70,358.20 L43.16,357.47 L43.65,356.75 L44.16,356.10 L44.66,355.57 L45.11,355.21 L45.58,354.94 L46.14,354.68 L46.77,354.46 L47.46,354.25 L48.17,354.08 L48.89,353.92 L49.60,353.78 L50.28,353.66 L50.90,353.55 L51.51,353.46 L52.10,353.38 L52.66,353.34 L53.20,353.32 L53.70,353.34 L54.16,353.39 L54.59,353.49 L55.01,353.62 L55.41,353.80 L55.80,354.00 L56.17,354.24 L56.52,354.51 L56.85,354.83 L57.16,355.20 L57.46,355.62 L57.73,356.09 L57.97,356.57 L58.19,357.10 L58.39,357.70 L58.58,358.39 L58.76,359.19 L58.94,360.11 L59.13,361.17 L59.33,362.40 L59.52,363.80 L59.71,365.32 L59.89,366.94 L60.05,368.60 L60.20,370.27 L60.32,371.90 L60.42,373.46 L60.50,375.00 L60.56,376.60 L60.60,378.20 L60.63,379.80 L60.63,381.34 L60.61,382.79 L60.56,384.13 L60.49,385.32 L60.40,386.39 L60.31,387.34 L60.21,388.18 L60.08,388.91 L59.92,389.53 L59.73,390.05 L59.51,390.47 L59.25,390.82 L58.95,391.09 L58.59,391.28 L58.16,391.43 L57.65,391.54 L57.06,391.61 L56.40,391.66 L55.70,391.69 L54.97,391.72 L54.22,391.74 L53.38,391.72 L52.48,391.68 L51.56,391.60 L50.64,391.51 L49.75,391.39 L48.93,391.27 L48.23,391.15 L47.61,391.01 L47.01,390.84 L46.43,390.63 L45.88,390.41 L45.37,390.18 L44.91,389.97 L44.52,389.78 L44.20,389.65 L43.80,390.35 L44.06,390.54 L44.38,390.81 L44.78,391.13 L45.25,391.49 L45.78,391.87 L46.38,392.24 L47.05,392.57 L47.77,392.85 L48.56,393.07 L49.42,393.27 L50.35,393.45 L51.32,393.61 L52.30,393.74 L53.26,393.83 L54.18,393.88 L55.03,393.88 L55.79,393.85 L56.54,393.81 L57.29,393.74 L58.04,393.62 L58.78,393.43 L59.49,393.14 L60.16,392.72 L60.75,392.18 L61.22,391.54 L61.58,390.86 L61.85,390.12 L62.04,389.33 L62.19,388.48 L62.31,387.56 L62.41,386.57 L62.51,385.48 L62.60,384.24 L62.66,382.86 L62.70,381.36 L62.72,379.79 L62.72,378.17 L62.69,376.54 L62.65,374.92 L62.58,373.34 L62.48,371.75 L62.35,370.09 L62.20,368.40 L62.03,366.71 L61.84,365.07 L61.65,363.52 L61.45,362.09 L61.27,360.83 L61.09,359.73 L60.93,358.76 L60.76,357.89 L60.59,357.10 L60.39,356.37 L60.15,355.68 L59.87,355.02 L59.54,354.38 L59.16,353.76 L58.73,353.19 L58.25,352.67 L57.74,352.21 L57.20,351.81 L56.63,351.46 L56.04,351.16 L55.41,350.91 L54.74,350.71 L54.05,350.57 L53.33,350.49 L52.61,350.45 L51.89,350.46 L51.16,350.52 L50.43,350.61 L49.72,350.74 L49.00,350.90 L48.23,351.08 L47.42,351.30 L46.59,351.57 L45.77,351.90 L44.96,352.30 L44.20,352.79 L43.49,353.39 L42.89,354.14 L42.42,354.99 L42.04,355.89 L41.73,356.79 L41.47,357.65 L41.26,358.43 L41.08,359.07 L40.94,359.52Z" fill="#6d6e70"/>
<path d="M43.33,359.43 L43.06,359.51 L42.68,359.58 L42.20,359.66 L41.63,359.79 L41.01,360.01 L40.37,360.35 L39.74,360.85 L39.19,361.51 L38.74,362.27 L38.32,363.13 L37.92,364.09 L37.55,365.13 L37.21,366.25 L36.91,367.42 L36.66,368.62 L36.46,369.86 L36.31,371.15 L36.21,372.55 L36.15,374.01 L36.13,375.50 L36.15,376.99 L36.21,378.45 L36.32,379.85 L36.46,381.14 L36.65,382.37 L36.89,383.58 L37.18,384.74 L37.50,385.86 L37.86,386.91 L38.26,387.88 L38.68,388.76 L39.14,389.54 L39.66,390.22 L40.24,390.81 L40.85,391.29 L41.50,391.66 L42.16,391.93 L42.82,392.09 L43.47,392.15 L44.09,392.11 L44.66,391.98 L45.23,391.79 L45.81,391.51 L46.38,391.12 L46.91,390.60 L47.39,389.94 L47.80,389.15 L48.15,388.20 L48.43,387.06 L48.68,385.72 L48.88,384.22 L49.06,382.61 L49.19,380.93 L49.29,379.23 L49.35,377.58 L49.37,376.00 L49.35,374.43 L49.29,372.78 L49.19,371.10 L49.05,369.43 L48.88,367.83 L48.67,366.33 L48.43,364.98 L48.15,363.82 L47.79,362.84 L47.34,362.02 L46.83,361.37 L46.31,360.87 L45.81,360.48 L45.37,360.17 L45.03,359.94 L44.79,359.72 L44.21,360.28 L44.46,360.57 L44.79,360.89 L45.16,361.23 L45.54,361.63 L45.92,362.10 L46.28,362.66 L46.59,363.34 L46.85,364.18 L47.08,365.25 L47.30,366.54 L47.50,368.00 L47.67,369.57 L47.82,371.20 L47.93,372.85 L48.00,374.46 L48.03,376.00 L48.01,377.54 L47.95,379.17 L47.86,380.84 L47.73,382.48 L47.56,384.06 L47.36,385.51 L47.12,386.77 L46.85,387.80 L46.55,388.59 L46.21,389.19 L45.85,389.65 L45.47,389.97 L45.09,390.20 L44.70,390.35 L44.30,390.45 L43.91,390.49 L43.55,390.49 L43.18,390.41 L42.77,390.27 L42.36,390.05 L41.96,389.77 L41.56,389.41 L41.20,388.97 L40.86,388.46 L40.53,387.83 L40.20,387.06 L39.89,386.19 L39.60,385.23 L39.33,384.20 L39.09,383.11 L38.90,381.99 L38.74,380.86 L38.62,379.65 L38.54,378.33 L38.48,376.93 L38.47,375.50 L38.49,374.07 L38.54,372.67 L38.62,371.35 L38.74,370.14 L38.90,369.01 L39.10,367.89 L39.34,366.80 L39.61,365.77 L39.91,364.80 L40.21,363.91 L40.52,363.13 L40.81,362.49 L41.08,362.02 L41.39,361.63 L41.76,361.30 L42.17,361.01 L42.59,360.76 L43.01,360.54 L43.39,360.35 L43.67,360.17Z" fill="#6d6e70"/>
<path d="M62.04,355.58 L62.19,356.21 L62.40,357.03 L62.65,358.00 L62.93,359.09 L63.21,360.27 L63.48,361.50 L63.73,362.76 L63.94,364.02 L64.13,365.32 L64.32,366.68 L64.51,368.09 L64.68,369.56 L64.83,371.07 L64.95,372.61 L65.03,374.19 L65.06,375.80 L65.02,377.50 L64.93,379.35 L64.78,381.27 L64.61,383.23 L64.43,385.15 L64.25,386.98 L64.10,388.67 L63.99,390.15 L63.93,391.44 L63.88,392.61 L63.85,393.67 L63.83,394.62 L63.82,395.45 L63.81,396.17 L63.81,396.78 L63.80,397.28 L64.20,397.32 L64.28,396.82 L64.37,396.22 L64.49,395.51 L64.62,394.68 L64.76,393.75 L64.91,392.70 L65.06,391.53 L65.21,390.25 L65.37,388.80 L65.58,387.13 L65.79,385.30 L66.01,383.37 L66.22,381.40 L66.38,379.45 L66.50,377.56 L66.54,375.80 L66.52,374.14 L66.44,372.52 L66.32,370.93 L66.16,369.39 L65.96,367.90 L65.75,366.46 L65.51,365.09 L65.26,363.78 L64.97,362.49 L64.62,361.21 L64.23,359.98 L63.82,358.82 L63.43,357.76 L63.07,356.82 L62.78,356.03 L62.56,355.42Z" fill="#6d6e70"/>
<path d="M69.87,374.04 L69.96,373.56 L70.08,372.91 L70.22,372.13 L70.38,371.28 L70.55,370.41 L70.73,369.56 L70.91,368.79 L71.09,368.13 L71.25,367.58 L71.38,367.08 L71.50,366.66 L71.62,366.30 L71.76,365.97 L71.94,365.64 L72.20,365.30 L72.55,364.90 L73.02,364.44 L73.60,363.93 L74.25,363.39 L74.96,362.86 L75.70,362.34 L76.44,361.87 L77.16,361.46 L77.83,361.14 L78.47,360.89 L79.13,360.69 L79.80,360.53 L80.46,360.41 L81.11,360.34 L81.75,360.32 L82.38,360.34 L82.97,360.40 L83.56,360.52 L84.17,360.69 L84.79,360.92 L85.39,361.20 L85.97,361.51 L86.51,361.84 L86.98,362.18 L87.37,362.52 L87.67,362.85 L87.92,363.21 L88.13,363.61 L88.31,364.05 L88.47,364.53 L88.61,365.04 L88.76,365.59 L88.91,366.15 L89.07,366.70 L89.20,367.26 L89.33,367.83 L89.44,368.41 L89.54,369.02 L89.63,369.65 L89.70,370.33 L89.76,371.04 L89.81,371.82 L89.84,372.70 L89.85,373.62 L89.85,374.57 L89.84,375.50 L89.82,376.38 L89.80,377.18 L89.76,377.85 L89.72,378.42 L89.65,378.91 L89.57,379.35 L89.48,379.74 L89.39,380.09 L89.31,380.40 L89.23,380.67 L89.18,380.90 L89.82,381.10 L89.90,380.90 L90.02,380.67 L90.16,380.37 L90.32,380.02 L90.48,379.60 L90.63,379.12 L90.75,378.57 L90.84,377.95 L90.89,377.23 L90.93,376.41 L90.95,375.51 L90.95,374.57 L90.94,373.61 L90.91,372.67 L90.88,371.77 L90.84,370.96 L90.79,370.23 L90.72,369.53 L90.65,368.87 L90.56,368.23 L90.46,367.61 L90.35,367.01 L90.22,366.42 L90.09,365.85 L89.96,365.29 L89.85,364.74 L89.73,364.19 L89.59,363.63 L89.41,363.07 L89.17,362.52 L88.84,361.98 L88.43,361.48 L87.94,361.02 L87.38,360.58 L86.77,360.18 L86.11,359.80 L85.41,359.47 L84.69,359.18 L83.96,358.96 L83.23,358.80 L82.50,358.71 L81.75,358.68 L81.00,358.71 L80.23,358.79 L79.46,358.92 L78.69,359.11 L77.93,359.36 L77.17,359.66 L76.40,360.04 L75.61,360.50 L74.81,361.03 L74.03,361.59 L73.28,362.18 L72.59,362.78 L71.97,363.35 L71.45,363.90 L71.04,364.41 L70.72,364.90 L70.48,365.38 L70.31,365.85 L70.19,366.32 L70.10,366.80 L70.01,367.30 L69.91,367.87 L69.79,368.57 L69.69,369.39 L69.60,370.27 L69.53,371.17 L69.47,372.04 L69.41,372.82 L69.37,373.48 L69.33,373.96Z" fill="#6d6e70"/>
<path d="M69.53,377.53 L69.53,377.89 L69.52,378.36 L69.50,378.93 L69.49,379.57 L69.49,380.25 L69.53,380.95 L69.60,381.63 L69.73,382.26 L69.90,382.83 L70.08,383.39 L70.30,383.95 L70.56,384.51 L70.86,385.06 L71.21,385.60 L71.62,386.12 L72.07,386.60 L72.57,387.05 L73.11,387.49 L73.70,387.91 L74.33,388.31 L75.02,388.67 L75.75,388.99 L76.52,389.23 L77.32,389.40 L78.15,389.49 L79.02,389.51 L79.92,389.48 L80.84,389.39 L81.75,389.25 L82.65,389.04 L83.52,388.78 L84.34,388.46 L85.12,388.07 L85.86,387.62 L86.58,387.11 L87.26,386.55 L87.89,385.95 L88.47,385.32 L88.98,384.67 L89.44,383.98 L89.80,383.20 L90.07,382.36 L90.25,381.49 L90.38,380.63 L90.46,379.83 L90.52,379.11 L90.57,378.51 L90.63,378.08 L89.97,377.92 L89.83,378.36 L89.65,378.95 L89.45,379.63 L89.22,380.38 L88.96,381.14 L88.66,381.86 L88.32,382.50 L87.96,383.02 L87.54,383.50 L87.06,384.00 L86.52,384.48 L85.94,384.94 L85.33,385.36 L84.71,385.74 L84.08,386.07 L83.46,386.34 L82.81,386.56 L82.09,386.74 L81.33,386.89 L80.55,387.00 L79.77,387.06 L79.02,387.08 L78.31,387.06 L77.68,387.00 L77.11,386.89 L76.55,386.73 L76.00,386.52 L75.45,386.26 L74.93,385.97 L74.42,385.66 L73.95,385.33 L73.53,385.00 L73.16,384.68 L72.83,384.33 L72.53,383.96 L72.24,383.55 L71.98,383.12 L71.73,382.67 L71.49,382.20 L71.27,381.74 L71.06,381.25 L70.87,380.69 L70.69,380.08 L70.53,379.45 L70.38,378.84 L70.26,378.29 L70.15,377.82 L70.07,377.47Z" fill="#6d6e70"/>
<path d="M76.48,364.65 L76.70,364.92 L77.01,365.25 L77.36,365.64 L77.74,366.08 L78.12,366.54 L78.49,367.03 L78.83,367.52 L79.12,368.03 L79.41,368.59 L79.73,369.22 L80.05,369.90 L80.36,370.59 L80.64,371.30 L80.87,371.99 L81.05,372.65 L81.16,373.27 L81.22,373.88 L81.23,374.53 L81.19,375.20 L81.12,375.88 L81.01,376.54 L80.86,377.16 L80.70,377.74 L80.52,378.25 L80.31,378.70 L80.06,379.14 L79.77,379.57 L79.44,379.97 L79.09,380.35 L78.72,380.69 L78.35,380.98 L78.01,381.22 L77.66,381.39 L77.24,381.51 L76.75,381.59 L76.23,381.63 L75.72,381.65 L75.24,381.65 L74.83,381.65 L74.52,381.66 L74.48,382.34 L74.77,382.38 L75.15,382.46 L75.63,382.57 L76.17,382.67 L76.75,382.75 L77.37,382.78 L77.99,382.73 L78.59,382.58 L79.14,382.35 L79.68,382.06 L80.21,381.72 L80.73,381.32 L81.23,380.86 L81.70,380.34 L82.12,379.77 L82.48,379.15 L82.77,378.49 L83.02,377.77 L83.23,377.02 L83.38,376.22 L83.49,375.41 L83.54,374.58 L83.52,373.75 L83.44,372.93 L83.26,372.11 L83.01,371.29 L82.70,370.48 L82.34,369.69 L81.95,368.94 L81.53,368.23 L81.11,367.57 L80.68,366.97 L80.21,366.42 L79.67,365.92 L79.11,365.49 L78.56,365.12 L78.04,364.81 L77.58,364.54 L77.20,364.33 L76.92,364.15Z" fill="#6d6e70"/>
<path d="M76.47,364.15 L76.21,364.37 L75.85,364.65 L75.43,364.99 L74.95,365.38 L74.45,365.80 L73.96,366.24 L73.49,366.70 L73.08,367.16 L72.71,367.63 L72.35,368.10 L72.01,368.60 L71.68,369.11 L71.38,369.64 L71.09,370.19 L70.84,370.74 L70.63,371.30 L70.44,371.88 L70.30,372.47 L70.18,373.07 L70.09,373.67 L70.03,374.28 L69.99,374.87 L69.98,375.46 L69.99,376.02 L70.02,376.58 L70.07,377.14 L70.15,377.71 L70.25,378.27 L70.38,378.82 L70.56,379.34 L70.78,379.84 L71.05,380.30 L71.42,380.72 L71.87,381.08 L72.35,381.38 L72.85,381.63 L73.32,381.84 L73.74,382.02 L74.09,382.17 L74.33,382.29 L74.67,381.71 L74.42,381.55 L74.08,381.35 L73.69,381.12 L73.27,380.87 L72.85,380.59 L72.47,380.30 L72.17,380.00 L71.95,379.70 L71.78,379.36 L71.63,378.96 L71.50,378.52 L71.40,378.04 L71.32,377.54 L71.27,377.02 L71.23,376.50 L71.21,375.98 L71.20,375.46 L71.22,374.92 L71.25,374.38 L71.31,373.83 L71.39,373.28 L71.49,372.73 L71.62,372.20 L71.77,371.70 L71.96,371.20 L72.17,370.70 L72.42,370.20 L72.69,369.71 L72.98,369.22 L73.29,368.75 L73.61,368.28 L73.92,367.84 L74.27,367.39 L74.66,366.94 L75.10,366.47 L75.54,366.02 L75.96,365.60 L76.35,365.22 L76.68,364.90 L76.93,364.65Z" fill="#6d6e70"/>
<path d="M25,400.6 Q31,398.6 38.6,397.9 Q33,400.4 30.4,403.2 Q29.8,406 31,409 L28.4,408 Q26,404 25,400.6 Z" fill="#6d6e70"/>
<path d="M38.23,397.76 L37.74,397.78 L37.08,397.79 L36.30,397.81 L35.43,397.83 L34.51,397.87 L33.56,397.92 L32.64,397.98 L31.80,398.07 L30.99,398.14 L30.09,398.19 L29.12,398.24 L28.13,398.33 L27.15,398.47 L26.19,398.73 L25.26,399.22 L24.49,400.09 L24.21,401.17 L24.33,402.14 L24.67,402.96 L25.11,403.72 L25.63,404.49 L26.19,405.31 L26.77,406.20 L27.34,407.20 L27.90,408.37 L28.49,409.78 L29.14,411.34 L29.86,413.01 L30.67,414.71 L31.61,416.38 L32.71,417.97 L33.98,419.38 L35.35,420.59 L36.79,421.69 L38.34,422.70 L40.00,423.63 L41.78,424.47 L43.68,425.24 L45.71,425.94 L47.89,426.57 L50.28,427.14 L52.89,427.67 L55.66,428.12 L58.54,428.51 L61.47,428.81 L64.40,429.02 L67.28,429.13 L70.03,429.12 L72.72,429.01 L75.45,428.80 L78.18,428.50 L80.87,428.10 L83.48,427.60 L85.98,426.99 L88.33,426.28 L90.52,425.45 L92.56,424.38 L94.45,423.06 L96.17,421.59 L97.72,420.08 L99.10,418.62 L100.28,417.29 L101.27,416.19 L102.06,415.40 L101.34,414.60 L100.44,415.31 L99.30,416.29 L97.97,417.45 L96.48,418.71 L94.85,419.96 L93.12,421.14 L91.32,422.16 L89.48,422.95 L87.49,423.59 L85.27,424.16 L82.89,424.65 L80.38,425.06 L77.80,425.40 L75.18,425.64 L72.55,425.80 L69.97,425.88 L67.35,425.86 L64.59,425.74 L61.76,425.53 L58.92,425.24 L56.14,424.88 L53.46,424.45 L50.97,423.96 L48.71,423.43 L46.67,422.86 L44.78,422.23 L43.04,421.55 L41.42,420.81 L39.93,420.01 L38.54,419.15 L37.23,418.21 L36.02,417.22 L34.93,416.12 L33.91,414.84 L32.97,413.41 L32.09,411.89 L31.29,410.35 L30.56,408.85 L29.88,407.45 L29.26,406.20 L28.68,405.12 L28.16,404.14 L27.71,403.27 L27.37,402.53 L27.17,401.93 L27.10,401.54 L27.13,401.41 L27.11,401.51 L27.06,401.56 L27.28,401.43 L27.82,401.24 L28.57,401.05 L29.45,400.88 L30.39,400.71 L31.33,400.53 L32.20,400.33 L33.01,400.11 L33.87,399.89 L34.76,399.68 L35.64,399.47 L36.49,399.27 L37.25,399.10 L37.89,398.95 L38.37,398.84Z" fill="#6d6e70"/>
<path d="M42.84,415.82 L42.94,414.79 L43.06,413.36 L43.21,411.64 L43.38,409.79 L43.56,407.91 L43.77,406.14 L43.99,404.62 L44.23,403.47 L44.45,402.63 L44.66,401.97 L44.84,401.51 L44.98,401.26 L45.07,401.17 L45.17,401.13 L45.39,401.09 L45.79,401.08 L46.31,401.14 L46.95,401.29 L47.68,401.53 L48.52,401.88 L49.43,402.33 L50.42,402.88 L51.48,403.54 L52.59,404.29 L53.77,405.21 L55.07,406.35 L56.46,407.67 L57.94,409.09 L59.48,410.53 L61.07,411.93 L62.71,413.23 L64.36,414.33 L66.03,415.28 L67.76,416.16 L69.54,416.98 L71.34,417.71 L73.13,418.33 L74.89,418.83 L76.59,419.19 L78.22,419.38 L79.79,419.38 L81.31,419.21 L82.77,418.89 L84.16,418.43 L85.48,417.87 L86.71,417.23 L87.84,416.51 L88.89,415.74 L89.85,414.87 L90.71,413.90 L91.48,412.83 L92.15,411.71 L92.74,410.54 L93.26,409.35 L93.70,408.14 L94.08,406.93 L94.36,405.62 L94.53,404.17 L94.61,402.68 L94.63,401.21 L94.60,399.81 L94.56,398.55 L94.53,397.50 L94.54,396.72 L93.86,396.68 L93.78,397.47 L93.70,398.53 L93.61,399.78 L93.50,401.16 L93.34,402.59 L93.14,404.00 L92.87,405.31 L92.52,406.47 L92.11,407.56 L91.65,408.68 L91.15,409.77 L90.59,410.83 L89.97,411.82 L89.28,412.74 L88.54,413.55 L87.71,414.26 L86.78,414.91 L85.75,415.52 L84.64,416.06 L83.47,416.53 L82.25,416.89 L80.99,417.14 L79.70,417.26 L78.38,417.22 L76.97,417.03 L75.45,416.67 L73.84,416.17 L72.17,415.55 L70.49,414.83 L68.82,414.03 L67.19,413.16 L65.64,412.27 L64.16,411.26 L62.65,410.05 L61.14,408.71 L59.63,407.30 L58.16,405.89 L56.72,404.54 L55.33,403.32 L54.01,402.31 L52.77,401.50 L51.60,400.82 L50.49,400.23 L49.43,399.76 L48.44,399.39 L47.50,399.12 L46.63,398.96 L45.81,398.92 L45.09,398.98 L44.40,399.16 L43.77,399.53 L43.28,400.06 L42.95,400.69 L42.72,401.38 L42.54,402.17 L42.37,403.13 L42.23,404.40 L42.15,406.01 L42.12,407.82 L42.11,409.73 L42.13,411.60 L42.15,413.32 L42.16,414.76 L42.16,415.78Z" fill="#6d6e70"/>
<path d="M22.91,417.38 L22.64,418.07 L22.25,419.00 L21.78,420.12 L21.27,421.37 L20.77,422.69 L20.32,424.05 L19.98,425.38 L19.79,426.61 L19.70,427.70 L19.62,428.74 L19.59,429.79 L19.66,430.87 L19.87,432.00 L20.26,433.16 L20.86,434.36 L21.68,435.59 L22.71,436.89 L23.92,438.29 L25.31,439.75 L26.87,441.23 L28.60,442.70 L30.46,444.10 L32.47,445.42 L34.61,446.59 L36.93,447.65 L39.47,448.66 L42.18,449.60 L45.02,450.47 L47.92,451.25 L50.85,451.92 L53.75,452.48 L56.56,452.91 L59.34,453.20 L62.15,453.35 L64.97,453.40 L67.78,453.33 L70.55,453.18 L73.29,452.94 L75.96,452.63 L78.55,452.26 L81.11,451.83 L83.70,451.31 L86.26,450.71 L88.76,450.03 L91.18,449.27 L93.47,448.43 L95.62,447.52 L97.57,446.52 L99.36,445.43 L100.99,444.24 L102.47,442.96 L103.80,441.60 L104.97,440.19 L105.99,438.73 L106.85,437.24 L107.56,435.70 L108.07,434.05 L108.33,432.36 L108.38,430.68 L108.28,429.04 L108.08,427.45 L107.82,425.92 L107.54,424.48 L107.27,423.09 L106.94,421.66 L106.50,420.18 L105.98,418.72 L105.44,417.32 L104.89,416.03 L104.40,414.88 L103.98,413.92 L103.69,413.19 L102.91,413.41 L103.04,414.20 L103.22,415.23 L103.43,416.46 L103.66,417.82 L103.89,419.26 L104.09,420.72 L104.24,422.14 L104.33,423.51 L104.42,424.91 L104.56,426.37 L104.68,427.83 L104.77,429.26 L104.77,430.65 L104.67,431.95 L104.44,433.16 L104.04,434.30 L103.48,435.48 L102.78,436.71 L101.95,437.93 L101.00,439.14 L99.92,440.31 L98.70,441.43 L97.33,442.50 L95.83,443.48 L94.12,444.40 L92.19,445.29 L90.07,446.13 L87.80,446.91 L85.43,447.63 L82.99,448.28 L80.52,448.85 L78.05,449.34 L75.55,449.76 L72.97,450.12 L70.32,450.41 L67.64,450.63 L64.93,450.75 L62.21,450.78 L59.51,450.70 L56.84,450.49 L54.11,450.16 L51.28,449.71 L48.41,449.16 L45.55,448.50 L42.76,447.74 L40.09,446.90 L37.62,445.99 L35.39,445.01 L33.37,443.92 L31.49,442.67 L29.73,441.30 L28.13,439.87 L26.67,438.42 L25.38,436.99 L24.26,435.63 L23.32,434.41 L22.63,433.34 L22.18,432.38 L21.90,431.49 L21.76,430.63 L21.72,429.75 L21.73,428.82 L21.78,427.83 L21.81,426.79 L21.88,425.68 L22.05,424.45 L22.31,423.13 L22.62,421.80 L22.94,420.51 L23.25,419.35 L23.51,418.36 L23.69,417.62Z" fill="#6d6e70"/>
<path d="M157.45,347.16 L157.41,348.16 L157.35,349.48 L157.29,351.06 L157.21,352.81 L157.13,354.66 L157.05,356.52 L156.98,358.31 L156.92,359.96 L156.86,361.49 L156.81,362.99 L156.76,364.47 L156.72,365.94 L156.67,367.42 L156.62,368.91 L156.57,370.42 L156.52,371.97 L156.46,373.57 L156.41,375.22 L156.36,376.91 L156.30,378.60 L156.24,380.28 L156.17,381.92 L156.08,383.50 L155.98,385.00 L155.85,386.40 L155.70,387.73 L155.54,389.00 L155.36,390.23 L155.19,391.45 L155.03,392.65 L154.88,393.87 L154.77,395.13 L154.66,396.44 L154.57,397.79 L154.48,399.16 L154.40,400.52 L154.34,401.83 L154.31,403.08 L154.32,404.23 L154.36,405.27 L154.44,406.21 L154.56,407.07 L154.72,407.84 L154.89,408.54 L155.09,409.16 L155.31,409.72 L155.53,410.22 L155.77,410.66 L156.03,411.04 L156.34,411.35 L156.68,411.62 L157.03,411.85 L157.37,412.06 L157.68,412.25 L157.94,412.43 L158.13,412.59 L159.47,412.61 L159.67,412.49 L159.94,412.35 L160.26,412.17 L160.62,411.94 L160.98,411.64 L161.31,411.28 L161.61,410.84 L161.83,410.34 L162.01,409.79 L162.16,409.22 L162.28,408.60 L162.38,407.95 L162.45,407.24 L162.48,406.48 L162.48,405.65 L162.44,404.73 L162.35,403.70 L162.19,402.55 L162.00,401.33 L161.78,400.05 L161.53,398.74 L161.29,397.42 L161.05,396.13 L160.83,394.87 L160.62,393.67 L160.40,392.49 L160.17,391.32 L159.94,390.14 L159.72,388.94 L159.52,387.69 L159.35,386.39 L159.22,385.00 L159.13,383.52 L159.07,381.95 L159.04,380.32 L159.02,378.65 L159.03,376.96 L159.04,375.28 L159.06,373.63 L159.08,372.03 L159.11,370.49 L159.15,368.99 L159.20,367.51 L159.26,366.03 L159.32,364.56 L159.38,363.08 L159.43,361.58 L159.48,360.04 L159.52,358.39 L159.56,356.60 L159.60,354.73 L159.64,352.89 L159.67,351.13 L159.70,349.56 L159.73,348.23 L159.75,347.24Z" fill="#6d6e70"/>
<path d="M216.39,347.98 L216.37,348.91 L216.34,350.14 L216.31,351.60 L216.28,353.23 L216.24,354.95 L216.20,356.70 L216.16,358.40 L216.12,359.98 L216.08,361.47 L216.04,362.95 L216.00,364.43 L215.95,365.91 L215.91,367.40 L215.85,368.91 L215.79,370.44 L215.72,371.99 L215.63,373.59 L215.52,375.26 L215.41,376.97 L215.29,378.68 L215.17,380.38 L215.05,382.02 L214.94,383.58 L214.84,385.04 L214.73,386.41 L214.61,387.72 L214.49,388.97 L214.37,390.15 L214.27,391.27 L214.21,392.31 L214.19,393.29 L214.23,394.20 L214.34,395.06 L214.52,395.86 L214.74,396.58 L214.99,397.23 L215.26,397.80 L215.52,398.30 L215.77,398.74 L215.98,399.13 L216.17,399.44 L216.37,399.69 L216.57,399.87 L216.76,400.02 L216.94,400.13 L217.09,400.25 L217.22,400.37 L217.33,400.48 L218.67,400.52 L218.78,400.45 L218.92,400.38 L219.10,400.27 L219.29,400.11 L219.49,399.90 L219.68,399.62 L219.86,399.29 L220.02,398.87 L220.17,398.40 L220.34,397.88 L220.50,397.32 L220.66,396.71 L220.80,396.06 L220.90,395.37 L220.96,394.62 L220.97,393.80 L220.90,392.90 L220.77,391.94 L220.59,390.92 L220.38,389.85 L220.15,388.72 L219.93,387.53 L219.73,386.28 L219.56,384.96 L219.42,383.53 L219.28,382.00 L219.16,380.37 L219.04,378.69 L218.93,376.98 L218.83,375.28 L218.75,373.62 L218.68,372.01 L218.64,370.47 L218.62,368.95 L218.61,367.45 L218.62,365.96 L218.63,364.48 L218.65,363.00 L218.67,361.52 L218.68,360.02 L218.69,358.44 L218.71,356.74 L218.73,354.99 L218.75,353.27 L218.77,351.64 L218.79,350.18 L218.80,348.95 L218.81,348.02Z" fill="#6d6e70"/>
<path d="M163.01,414.95 L163.58,414.65 L164.31,414.23 L165.15,413.74 L166.10,413.22 L167.11,412.68 L168.17,412.17 L169.25,411.71 L170.33,411.33 L171.34,411.04 L172.29,410.82 L173.25,410.65 L174.30,410.49 L175.52,410.31 L176.98,410.10 L178.75,409.83 L180.89,409.46 L183.52,408.99 L186.64,408.42 L190.10,407.78 L193.76,407.11 L197.49,406.43 L201.14,405.78 L204.59,405.18 L207.68,404.67 L210.51,404.21 L213.24,403.77 L215.86,403.35 L218.35,402.98 L220.70,402.65 L222.90,402.37 L224.93,402.16 L226.79,402.01 L228.43,401.92 L229.82,401.85 L230.99,401.84 L232.01,401.88 L232.94,401.98 L233.84,402.16 L234.79,402.44 L235.83,402.82 L236.95,403.33 L238.09,403.98 L239.26,404.74 L240.45,405.59 L241.62,406.50 L242.79,407.45 L243.92,408.40 L245.02,409.33 L246.08,410.25 L247.14,411.19 L248.18,412.14 L249.17,413.11 L250.10,414.07 L250.96,415.03 L251.73,415.96 L252.39,416.87 L252.97,417.77 L253.47,418.67 L253.91,419.55 L254.28,420.43 L254.58,421.31 L254.80,422.17 L254.96,423.03 L255.05,423.90 L255.09,424.78 L255.07,425.69 L255.00,426.59 L254.85,427.46 L254.64,428.31 L254.33,429.10 L253.94,429.85 L253.44,430.56 L252.83,431.26 L252.14,431.94 L251.38,432.58 L250.50,433.20 L249.49,433.80 L248.31,434.38 L246.94,434.96 L245.37,435.52 L243.54,436.07 L241.43,436.61 L239.11,437.12 L236.63,437.62 L234.07,438.09 L231.48,438.53 L228.92,438.95 L226.46,439.33 L224.05,439.70 L221.59,440.06 L219.13,440.39 L216.67,440.69 L214.25,440.95 L211.90,441.16 L209.63,441.31 L207.46,441.38 L205.39,441.40 L203.39,441.38 L201.48,441.31 L199.63,441.18 L197.84,440.99 L196.08,440.72 L194.36,440.38 L192.65,439.94 L190.93,439.41 L189.23,438.77 L187.53,438.06 L185.87,437.26 L184.24,436.40 L182.67,435.49 L181.15,434.53 L179.73,433.55 L178.38,432.52 L177.08,431.37 L175.82,430.15 L174.60,428.87 L173.43,427.57 L172.31,426.28 L171.25,425.02 L170.25,423.85 L169.32,422.73 L168.45,421.61 L167.63,420.49 L166.87,419.41 L166.18,418.39 L165.56,417.44 L165.01,416.59 L164.54,415.87 L164.19,415.32 L163.96,414.91 L163.82,414.63 L163.74,414.44 L163.70,414.31 L163.66,414.16 L163.61,413.92 L163.54,413.70 L161.46,414.30 L161.48,414.39 L161.48,414.47 L161.49,414.70 L161.54,415.03 L161.65,415.44 L161.83,415.92 L162.10,416.48 L162.46,417.13 L162.92,417.89 L163.45,418.77 L164.06,419.76 L164.75,420.84 L165.51,421.98 L166.33,423.16 L167.22,424.36 L168.15,425.55 L169.13,426.77 L170.16,428.06 L171.26,429.42 L172.44,430.82 L173.68,432.21 L175.00,433.56 L176.40,434.86 L177.87,436.05 L179.41,437.14 L181.01,438.18 L182.69,439.18 L184.42,440.11 L186.20,440.98 L188.03,441.77 L189.88,442.46 L191.75,443.06 L193.63,443.54 L195.52,443.93 L197.42,444.22 L199.34,444.43 L201.31,444.57 L203.32,444.64 L205.39,444.65 L207.54,444.62 L209.80,444.52 L212.16,444.34 L214.58,444.10 L217.05,443.79 L219.55,443.45 L222.04,443.07 L224.51,442.67 L226.94,442.27 L229.41,441.84 L231.98,441.39 L234.59,440.90 L237.18,440.38 L239.70,439.84 L242.09,439.28 L244.28,438.69 L246.23,438.08 L247.92,437.46 L249.42,436.82 L250.76,436.15 L251.95,435.45 L253.01,434.72 L253.95,433.94 L254.79,433.12 L255.56,432.24 L256.25,431.26 L256.80,430.21 L257.21,429.13 L257.50,428.02 L257.68,426.92 L257.77,425.83 L257.79,424.75 L257.75,423.70 L257.64,422.65 L257.45,421.59 L257.17,420.53 L256.82,419.48 L256.39,418.43 L255.88,417.39 L255.28,416.36 L254.61,415.33 L253.83,414.30 L252.95,413.28 L251.98,412.26 L250.96,411.27 L249.89,410.29 L248.79,409.32 L247.68,408.38 L246.58,407.47 L245.48,406.55 L244.32,405.59 L243.12,404.62 L241.89,403.66 L240.63,402.75 L239.36,401.91 L238.06,401.17 L236.77,400.58 L235.55,400.13 L234.43,399.80 L233.32,399.57 L232.20,399.44 L231.02,399.39 L229.74,399.41 L228.29,399.48 L226.61,399.59 L224.69,399.76 L222.61,400.01 L220.37,400.33 L218.00,400.71 L215.50,401.13 L212.88,401.58 L210.15,402.05 L207.32,402.53 L204.22,403.07 L200.77,403.67 L197.11,404.33 L193.38,405.00 L189.71,405.67 L186.25,406.30 L183.14,406.86 L180.51,407.34 L178.40,407.70 L176.66,407.97 L175.21,408.18 L173.99,408.35 L172.89,408.52 L171.85,408.71 L170.81,408.95 L169.67,409.27 L168.47,409.70 L167.28,410.20 L166.14,410.75 L165.07,411.32 L164.09,411.86 L163.24,412.36 L162.53,412.76 L161.99,413.05Z" fill="#6d6e70"/>
<path d="M157.16,418.64 L157.13,419.11 L157.04,419.71 L156.93,420.46 L156.84,421.34 L156.81,422.34 L156.90,423.44 L157.15,424.62 L157.60,425.81 L158.22,427.01 L158.97,428.26 L159.84,429.57 L160.81,430.90 L161.87,432.25 L162.99,433.59 L164.16,434.90 L165.35,436.15 L166.59,437.36 L167.92,438.58 L169.31,439.78 L170.75,440.96 L172.22,442.09 L173.69,443.18 L175.16,444.20 L176.59,445.15 L178.00,446.02 L179.40,446.85 L180.81,447.62 L182.22,448.34 L183.65,449.00 L185.09,449.60 L186.54,450.13 L188.01,450.59 L189.44,450.98 L190.85,451.31 L192.25,451.59 L193.68,451.79 L195.16,451.92 L196.71,451.97 L198.35,451.93 L200.11,451.81 L202.01,451.57 L204.04,451.21 L206.15,450.75 L208.32,450.23 L210.51,449.67 L212.70,449.09 L214.85,448.52 L216.94,447.98 L218.97,447.47 L220.97,446.96 L222.95,446.45 L224.93,445.92 L226.92,445.38 L228.94,444.81 L231.00,444.21 L233.12,443.58 L235.43,442.86 L237.97,442.05 L240.62,441.17 L243.27,440.29 L245.78,439.45 L248.05,438.68 L249.96,438.03 L251.38,437.56 L251.22,437.04 L249.77,437.43 L247.83,437.96 L245.52,438.59 L242.96,439.28 L240.27,440.01 L237.58,440.73 L235.01,441.41 L232.68,442.02 L230.55,442.57 L228.48,443.10 L226.45,443.62 L224.46,444.12 L222.48,444.60 L220.50,445.08 L218.50,445.55 L216.46,446.02 L214.35,446.50 L212.18,447.02 L209.99,447.55 L207.81,448.06 L205.67,448.52 L203.62,448.91 L201.68,449.21 L199.89,449.39 L198.26,449.47 L196.75,449.46 L195.34,449.38 L194.00,449.24 L192.71,449.02 L191.43,448.74 L190.13,448.40 L188.79,448.01 L187.45,447.55 L186.13,447.03 L184.81,446.44 L183.50,445.79 L182.19,445.09 L180.87,444.32 L179.54,443.51 L178.21,442.65 L176.84,441.74 L175.45,440.75 L174.03,439.70 L172.62,438.61 L171.24,437.48 L169.90,436.33 L168.63,435.19 L167.45,434.05 L166.33,432.89 L165.22,431.66 L164.16,430.39 L163.15,429.12 L162.21,427.87 L161.36,426.68 L160.62,425.57 L160.00,424.59 L159.54,423.73 L159.18,422.89 L158.91,422.04 L158.71,421.22 L158.56,420.43 L158.45,419.71 L158.35,419.06 L158.24,418.56Z" fill="#6d6e70"/>
<path d="M208.6,426.9 L212.2,426.1 L213.2,428.7 L209.6,429.5 Z" fill="#6d6e70"/>
<path d="M214.3,425.9 L217.9,425.1 L218.9,427.7 L215.3,428.5 Z" fill="#6d6e70"/>
<path d="M220.0,425.1 L223.6,424.3 L224.6,426.9 L221.0,427.7 Z" fill="#6d6e70"/>
<path d="M376.60,349.28 L376.28,349.44 L375.84,349.63 L375.30,349.87 L374.71,350.14 L374.09,350.45 L373.47,350.79 L372.88,351.16 L372.37,351.56 L371.93,351.96 L371.52,352.38 L371.13,352.82 L370.76,353.30 L370.42,353.81 L370.12,354.36 L369.87,354.94 L369.68,355.54 L369.55,356.15 L369.45,356.78 L369.40,357.45 L369.39,358.15 L369.45,358.86 L369.59,359.58 L369.82,360.29 L370.14,360.96 L370.55,361.60 L371.04,362.21 L371.59,362.80 L372.21,363.37 L372.88,363.90 L373.59,364.40 L374.35,364.85 L375.15,365.25 L376.05,365.58 L377.08,365.86 L378.16,366.08 L379.25,366.26 L380.30,366.42 L381.25,366.54 L382.03,366.65 L382.61,366.74 L382.79,365.86 L382.22,365.71 L381.44,365.51 L380.52,365.29 L379.51,365.04 L378.48,364.75 L377.48,364.44 L376.59,364.10 L375.85,363.75 L375.21,363.37 L374.58,362.94 L373.98,362.48 L373.43,362.00 L372.93,361.50 L372.49,360.99 L372.13,360.50 L371.86,360.04 L371.67,359.59 L371.55,359.12 L371.48,358.62 L371.46,358.10 L371.48,357.57 L371.53,357.04 L371.62,356.53 L371.72,356.06 L371.84,355.64 L372.00,355.24 L372.20,354.84 L372.43,354.44 L372.70,354.03 L373.00,353.63 L373.31,353.23 L373.63,352.84 L373.97,352.46 L374.40,352.05 L374.88,351.63 L375.38,351.21 L375.87,350.81 L376.33,350.45 L376.72,350.15 L377.00,349.92Z" fill="#6d6e70"/>
<path d="M382.02,348.90 L382.64,348.89 L383.47,348.87 L384.45,348.85 L385.53,348.83 L386.68,348.83 L387.83,348.84 L388.95,348.88 L389.98,348.95 L390.97,349.05 L391.98,349.18 L393.00,349.32 L394.01,349.49 L395.00,349.68 L395.96,349.89 L396.87,350.12 L397.72,350.37 L398.51,350.64 L399.25,350.95 L399.95,351.28 L400.62,351.63 L401.27,351.99 L401.91,352.36 L402.54,352.73 L403.17,353.10 L403.79,353.47 L404.42,353.87 L405.06,354.30 L405.69,354.73 L406.30,355.15 L406.88,355.55 L407.41,355.91 L407.93,356.25 L408.49,356.54 L409.04,356.74 L409.51,356.85 L409.86,356.88 L410.07,356.85 L410.13,356.70 L410.19,356.49 L410.22,356.45 L410.04,356.60 L409.62,356.82 L409.04,357.06 L408.33,357.30 L407.54,357.56 L406.71,357.83 L405.88,358.14 L405.09,358.48 L404.33,358.86 L403.57,359.27 L402.79,359.70 L402.00,360.15 L401.17,360.60 L400.32,361.05 L399.44,361.48 L398.52,361.88 L397.54,362.27 L396.50,362.65 L395.40,363.03 L394.27,363.40 L393.13,363.76 L392.00,364.10 L390.89,364.42 L389.82,364.72 L388.75,365.00 L387.62,365.26 L386.48,365.52 L385.36,365.75 L384.30,365.96 L383.35,366.15 L382.56,366.30 L381.95,366.43 L382.05,367.17 L382.67,367.13 L383.47,367.07 L384.44,367.01 L385.52,366.94 L386.67,366.85 L387.86,366.75 L389.04,366.63 L390.18,366.48 L391.30,366.32 L392.46,366.14 L393.65,365.95 L394.85,365.74 L396.06,365.51 L397.24,365.26 L398.39,365.00 L399.48,364.72 L400.53,364.43 L401.55,364.13 L402.54,363.81 L403.50,363.48 L404.43,363.13 L405.31,362.75 L406.14,362.35 L406.91,361.92 L407.66,361.44 L408.40,360.89 L409.12,360.29 L409.80,359.67 L410.41,359.06 L410.95,358.47 L411.41,357.91 L411.78,357.35 L412.03,356.69 L412.00,355.93 L411.72,355.30 L411.39,354.82 L411.04,354.40 L410.71,354.02 L410.39,353.68 L410.07,353.35 L409.64,352.96 L409.09,352.52 L408.48,352.06 L407.81,351.60 L407.10,351.14 L406.36,350.69 L405.59,350.27 L404.83,349.90 L404.08,349.58 L403.33,349.29 L402.55,349.03 L401.75,348.79 L400.93,348.57 L400.07,348.37 L399.19,348.19 L398.28,348.03 L397.32,347.89 L396.32,347.76 L395.29,347.66 L394.24,347.57 L393.18,347.51 L392.12,347.46 L391.06,347.45 L390.02,347.45 L388.94,347.50 L387.79,347.58 L386.62,347.70 L385.47,347.84 L384.38,347.98 L383.41,348.12 L382.59,348.23 L381.98,348.30Z" fill="#6d6e70"/>
<path d="M385.59,351.28 L385.81,351.40 L386.09,351.55 L386.42,351.73 L386.77,351.93 L387.14,352.14 L387.48,352.36 L387.79,352.57 L388.04,352.77 L388.28,352.98 L388.53,353.20 L388.77,353.43 L389.01,353.67 L389.24,353.92 L389.46,354.18 L389.66,354.45 L389.83,354.72 L389.98,355.01 L390.12,355.31 L390.25,355.63 L390.36,355.95 L390.45,356.28 L390.53,356.61 L390.59,356.94 L390.62,357.26 L390.64,357.59 L390.64,357.92 L390.62,358.26 L390.59,358.60 L390.53,358.94 L390.46,359.27 L390.38,359.60 L390.28,359.90 L390.16,360.21 L390.01,360.51 L389.86,360.81 L389.68,361.10 L389.49,361.39 L389.29,361.66 L389.07,361.91 L388.85,362.15 L388.61,362.37 L388.36,362.59 L388.09,362.79 L387.80,362.98 L387.51,363.16 L387.21,363.31 L386.91,363.46 L386.60,363.58 L386.30,363.68 L385.97,363.76 L385.64,363.83 L385.30,363.89 L384.96,363.92 L384.62,363.94 L384.29,363.94 L383.96,363.92 L383.64,363.89 L383.31,363.83 L382.98,363.75 L382.65,363.66 L382.33,363.55 L382.01,363.42 L381.71,363.28 L381.42,363.13 L381.15,362.96 L380.88,362.77 L380.61,362.56 L380.35,362.33 L380.11,362.10 L379.87,361.85 L379.66,361.59 L379.46,361.33 L379.28,361.06 L379.12,360.77 L378.96,360.46 L378.82,360.15 L378.70,359.83 L378.59,359.51 L378.50,359.19 L378.44,358.87 L378.40,358.55 L378.37,358.22 L378.37,357.88 L378.39,357.54 L378.42,357.19 L378.46,356.86 L378.51,356.53 L378.56,356.22 L378.63,355.90 L378.72,355.54 L378.85,355.15 L378.99,354.76 L379.13,354.38 L379.27,354.03 L379.39,353.73 L379.47,353.51 L378.95,353.21 L378.80,353.39 L378.60,353.63 L378.35,353.91 L378.08,354.24 L377.80,354.60 L377.53,354.98 L377.30,355.39 L377.12,355.80 L377.00,356.21 L376.92,356.62 L376.86,357.04 L376.84,357.46 L376.83,357.88 L376.86,358.30 L376.90,358.72 L376.96,359.13 L377.05,359.53 L377.15,359.94 L377.28,360.34 L377.44,360.73 L377.61,361.11 L377.80,361.49 L378.01,361.85 L378.24,362.19 L378.48,362.52 L378.75,362.84 L379.03,363.15 L379.34,363.44 L379.65,363.72 L379.98,363.97 L380.32,364.21 L380.68,364.43 L381.04,364.62 L381.42,364.80 L381.81,364.96 L382.20,365.09 L382.61,365.21 L383.02,365.30 L383.43,365.37 L383.84,365.42 L384.25,365.44 L384.66,365.44 L385.08,365.42 L385.50,365.37 L385.91,365.31 L386.32,365.22 L386.72,365.11 L387.12,364.98 L387.50,364.83 L387.88,364.66 L388.25,364.46 L388.61,364.25 L388.96,364.01 L389.29,363.76 L389.61,363.49 L389.91,363.21 L390.19,362.91 L390.46,362.59 L390.71,362.26 L390.95,361.91 L391.16,361.55 L391.36,361.18 L391.53,360.80 L391.68,360.42 L391.81,360.02 L391.92,359.62 L392.01,359.21 L392.07,358.80 L392.12,358.38 L392.14,357.96 L392.14,357.55 L392.12,357.14 L392.07,356.73 L392.00,356.32 L391.91,355.91 L391.79,355.50 L391.66,355.11 L391.50,354.72 L391.32,354.34 L391.13,353.98 L390.92,353.62 L390.68,353.28 L390.43,352.94 L390.16,352.62 L389.87,352.31 L389.56,352.02 L389.23,351.76 L388.88,351.53 L388.48,351.32 L388.03,351.16 L387.58,351.04 L387.13,350.94 L386.71,350.87 L386.34,350.81 L386.03,350.76 L385.81,350.72Z" fill="#6d6e70"/>
<path d="M383.29,353.12 L383.03,353.16 L382.65,353.19 L382.19,353.23 L381.68,353.29 L381.14,353.38 L380.59,353.52 L380.04,353.74 L379.55,354.06 L379.16,354.46 L378.85,354.89 L378.60,355.35 L378.40,355.84 L378.25,356.34 L378.15,356.85 L378.10,357.35 L378.10,357.86 L378.16,358.38 L378.27,358.89 L378.43,359.40 L378.63,359.89 L378.87,360.36 L379.16,360.80 L379.49,361.20 L379.89,361.57 L380.38,361.86 L380.90,362.03 L381.42,362.11 L381.91,362.13 L382.37,362.12 L382.77,362.11 L383.09,362.09 L383.32,362.09 L383.48,361.51 L383.26,361.39 L382.96,361.23 L382.61,361.05 L382.25,360.84 L381.91,360.63 L381.62,360.40 L381.42,360.20 L381.31,360.03 L381.21,359.84 L381.07,359.58 L380.93,359.28 L380.80,358.96 L380.68,358.63 L380.59,358.30 L380.53,358.00 L380.50,357.74 L380.50,357.47 L380.53,357.18 L380.58,356.87 L380.65,356.56 L380.74,356.26 L380.85,355.98 L380.96,355.73 L381.05,355.54 L381.17,355.34 L381.41,355.09 L381.75,354.81 L382.14,354.54 L382.55,354.28 L382.93,354.04 L383.27,353.84 L383.51,353.68Z" fill="#6d6e70"/>
<path d="M349.38,402.75 L349.10,402.27 L348.70,401.66 L348.23,400.96 L347.75,400.19 L347.31,399.37 L346.96,398.54 L346.75,397.74 L346.70,396.98 L346.80,396.15 L347.03,395.19 L347.37,394.14 L347.80,393.02 L348.30,391.87 L348.84,390.71 L349.40,389.56 L349.95,388.45 L350.50,387.39 L351.09,386.33 L351.71,385.28 L352.36,384.24 L353.03,383.21 L353.71,382.21 L354.41,381.23 L355.10,380.28 L355.81,379.35 L356.54,378.42 L357.29,377.50 L358.04,376.62 L358.79,375.78 L359.54,374.99 L360.28,374.27 L361.01,373.61 L361.70,373.01 L362.30,372.49 L362.83,372.06 L363.34,371.69 L363.88,371.37 L364.53,371.07 L365.34,370.76 L366.38,370.45 L367.65,370.14 L369.12,369.84 L370.75,369.56 L372.50,369.31 L374.32,369.09 L376.18,368.90 L378.03,368.75 L379.84,368.65 L381.68,368.60 L383.63,368.59 L385.64,368.63 L387.65,368.70 L389.63,368.80 L391.53,368.92 L393.29,369.05 L394.88,369.19 L396.28,369.34 L397.56,369.49 L398.72,369.66 L399.77,369.84 L400.74,370.05 L401.63,370.28 L402.47,370.54 L403.29,370.85 L404.09,371.17 L404.84,371.50 L405.51,371.83 L406.08,372.17 L406.55,372.52 L406.92,372.90 L407.21,373.33 L407.43,373.83 L407.57,374.47 L407.63,375.24 L407.61,376.14 L407.50,377.14 L407.33,378.21 L407.09,379.34 L406.81,380.52 L406.49,381.71 L406.12,382.96 L405.69,384.28 L405.21,385.67 L404.66,387.08 L404.07,388.50 L403.44,389.89 L402.78,391.22 L402.09,392.48 L401.36,393.67 L400.57,394.85 L399.73,396.00 L398.86,397.12 L397.96,398.19 L397.04,399.23 L396.10,400.22 L395.15,401.16 L394.20,402.06 L393.27,402.91 L392.35,403.71 L391.41,404.45 L390.46,405.13 L389.45,405.75 L388.38,406.31 L387.22,406.81 L385.93,407.26 L384.48,407.66 L382.92,408.01 L381.29,408.31 L379.63,408.57 L377.97,408.79 L376.35,408.99 L374.83,409.16 L373.40,409.30 L372.02,409.39 L370.67,409.45 L369.34,409.48 L368.02,409.47 L366.71,409.44 L365.38,409.38 L364.03,409.31 L362.64,409.21 L361.19,409.10 L359.72,408.97 L358.28,408.81 L356.89,408.62 L355.59,408.40 L354.42,408.14 L353.43,407.84 L352.58,407.47 L351.79,406.99 L351.05,406.42 L350.37,405.80 L349.75,405.18 L349.21,404.59 L348.73,404.07 L348.34,403.70 L347.66,404.30 L347.96,404.70 L348.31,405.27 L348.75,405.97 L349.27,406.75 L349.90,407.56 L350.65,408.38 L351.54,409.13 L352.57,409.76 L353.74,410.26 L355.02,410.69 L356.40,411.06 L357.86,411.39 L359.35,411.67 L360.86,411.91 L362.34,412.12 L363.77,412.29 L365.15,412.44 L366.54,412.56 L367.92,412.65 L369.32,412.70 L370.74,412.71 L372.18,412.67 L373.66,412.58 L375.17,412.44 L376.75,412.26 L378.41,412.04 L380.13,411.78 L381.87,411.46 L383.60,411.10 L385.28,410.67 L386.89,410.17 L388.38,409.59 L389.72,408.92 L390.95,408.19 L392.07,407.40 L393.11,406.55 L394.08,405.67 L395.02,404.75 L395.93,403.81 L396.85,402.84 L397.80,401.83 L398.75,400.76 L399.69,399.64 L400.60,398.48 L401.49,397.29 L402.34,396.06 L403.15,394.80 L403.91,393.52 L404.63,392.18 L405.32,390.78 L405.97,389.32 L406.59,387.85 L407.15,386.39 L407.66,384.96 L408.12,383.58 L408.51,382.29 L408.85,381.05 L409.17,379.83 L409.44,378.63 L409.66,377.45 L409.80,376.31 L409.85,375.21 L409.78,374.16 L409.57,373.17 L409.20,372.26 L408.68,371.48 L408.04,370.83 L407.33,370.30 L406.57,369.85 L405.78,369.46 L404.96,369.10 L404.11,368.75 L403.22,368.41 L402.27,368.10 L401.28,367.83 L400.23,367.58 L399.10,367.36 L397.89,367.17 L396.57,366.98 L395.12,366.81 L393.51,366.63 L391.72,366.46 L389.80,366.30 L387.79,366.16 L385.73,366.05 L383.68,365.97 L381.67,365.93 L379.76,365.95 L377.88,366.02 L375.96,366.13 L374.04,366.28 L372.15,366.46 L370.33,366.69 L368.61,366.94 L367.03,367.23 L365.62,367.55 L364.41,367.89 L363.37,368.27 L362.48,368.68 L361.69,369.14 L360.98,369.65 L360.34,370.18 L359.70,370.75 L358.99,371.39 L358.21,372.12 L357.41,372.95 L356.62,373.83 L355.84,374.76 L355.07,375.72 L354.32,376.71 L353.59,377.71 L352.90,378.72 L352.22,379.75 L351.56,380.81 L350.92,381.90 L350.29,383.01 L349.69,384.14 L349.11,385.28 L348.57,386.42 L348.05,387.55 L347.54,388.68 L347.01,389.86 L346.47,391.07 L345.97,392.29 L345.53,393.51 L345.18,394.71 L344.96,395.88 L344.90,397.02 L345.08,398.13 L345.49,399.16 L346.03,400.10 L346.65,400.94 L347.27,401.68 L347.85,402.32 L348.31,402.84 L348.62,403.25Z" fill="#6d6e70"/>
<path d="M357.86,388.61 L358.05,388.19 L358.29,387.63 L358.57,386.98 L358.88,386.27 L359.23,385.55 L359.61,384.84 L360.01,384.19 L360.44,383.62 L360.92,383.04 L361.45,382.45 L362.01,381.85 L362.61,381.27 L363.24,380.70 L363.91,380.15 L364.62,379.64 L365.38,379.16 L366.22,378.70 L367.13,378.23 L368.11,377.78 L369.13,377.35 L370.19,376.95 L371.27,376.59 L372.36,376.29 L373.43,376.04 L374.59,375.87 L375.91,375.76 L377.31,375.71 L378.74,375.70 L380.10,375.72 L381.34,375.75 L382.39,375.77 L383.17,375.77 L383.23,375.03 L382.46,374.92 L381.44,374.75 L380.21,374.54 L378.84,374.32 L377.39,374.12 L375.92,373.98 L374.49,373.91 L373.17,373.96 L371.92,374.11 L370.69,374.34 L369.47,374.63 L368.28,374.98 L367.13,375.38 L366.03,375.83 L364.99,376.32 L364.02,376.84 L363.11,377.41 L362.26,378.04 L361.48,378.72 L360.77,379.42 L360.12,380.15 L359.54,380.89 L359.03,381.63 L358.56,382.38 L358.15,383.21 L357.85,384.10 L357.63,384.99 L357.47,385.85 L357.36,386.65 L357.28,387.37 L357.21,387.95 L357.14,388.39Z" fill="#6d6e70"/>
<path d="M348.89,399.08 L349.03,398.61 L349.21,397.98 L349.41,397.24 L349.64,396.42 L349.91,395.56 L350.21,394.72 L350.54,393.92 L350.89,393.22 L351.31,392.55 L351.79,391.88 L352.33,391.20 L352.89,390.54 L353.47,389.90 L354.05,389.30 L354.60,388.74 L355.11,388.23 L355.59,387.78 L356.09,387.36 L356.60,386.97 L357.10,386.62 L357.56,386.30 L357.98,386.02 L358.34,385.78 L358.62,385.59 L358.38,385.21 L358.09,385.37 L357.71,385.55 L357.26,385.78 L356.74,386.04 L356.19,386.35 L355.62,386.71 L355.04,387.11 L354.49,387.57 L353.95,388.08 L353.38,388.64 L352.78,389.26 L352.18,389.92 L351.60,390.61 L351.05,391.32 L350.54,392.05 L350.11,392.78 L349.73,393.57 L349.42,394.44 L349.15,395.33 L348.92,396.22 L348.73,397.06 L348.56,397.82 L348.43,398.45 L348.31,398.92Z" fill="#6d6e70"/>
<path d="M351.07,400.83 L351.71,401.11 L352.56,401.50 L353.57,401.96 L354.70,402.48 L355.93,403.00 L357.20,403.49 L358.50,403.94 L359.76,404.28 L361.02,404.54 L362.31,404.75 L363.63,404.92 L364.96,405.05 L366.28,405.14 L367.59,405.20 L368.85,405.24 L370.06,405.25 L371.21,405.24 L372.32,405.22 L373.41,405.17 L374.49,405.08 L375.57,404.95 L376.64,404.76 L377.72,404.52 L378.79,404.21 L379.86,403.85 L380.94,403.43 L382.01,402.96 L383.07,402.43 L384.11,401.86 L385.12,401.23 L386.09,400.54 L387.00,399.81 L387.86,399.02 L388.68,398.17 L389.46,397.27 L390.19,396.33 L390.86,395.38 L391.46,394.41 L391.99,393.44 L392.44,392.47 L392.79,391.43 L393.03,390.35 L393.18,389.25 L393.26,388.20 L393.30,387.21 L393.32,386.33 L393.34,385.60 L393.37,385.06 L392.63,384.94 L392.49,385.48 L392.33,386.21 L392.15,387.06 L391.93,387.99 L391.66,388.95 L391.35,389.90 L390.98,390.77 L390.56,391.53 L390.05,392.27 L389.46,393.04 L388.81,393.82 L388.10,394.58 L387.35,395.31 L386.58,396.00 L385.79,396.63 L385.00,397.19 L384.19,397.68 L383.32,398.14 L382.41,398.56 L381.47,398.94 L380.50,399.29 L379.53,399.62 L378.55,399.91 L377.61,400.19 L376.69,400.42 L375.80,400.63 L374.90,400.80 L373.98,400.95 L373.04,401.07 L372.05,401.18 L371.02,401.27 L369.94,401.35 L368.80,401.42 L367.61,401.46 L366.37,401.48 L365.12,401.49 L363.86,401.47 L362.61,401.44 L361.39,401.39 L360.24,401.32 L359.07,401.21 L357.81,401.06 L356.52,400.87 L355.25,400.66 L354.04,400.45 L352.95,400.25 L352.03,400.09 L351.33,399.97Z" fill="#6d6e70"/>
<path d="M405.21,371.58 L405.30,372.08 L405.44,372.72 L405.61,373.46 L405.77,374.29 L405.92,375.19 L406.04,376.11 L406.10,377.06 L406.10,378.02 L406.04,379.05 L405.96,380.19 L405.84,381.40 L405.68,382.65 L405.48,383.92 L405.24,385.20 L404.94,386.45 L404.58,387.67 L404.12,388.94 L403.51,390.34 L402.81,391.81 L402.07,393.28 L401.34,394.68 L400.66,395.94 L400.09,397.01 L399.68,397.81 L400.32,398.19 L400.82,397.45 L401.51,396.46 L402.34,395.29 L403.24,393.97 L404.16,392.57 L405.04,391.13 L405.81,389.70 L406.42,388.33 L406.86,387.00 L407.22,385.64 L407.49,384.27 L407.69,382.91 L407.82,381.59 L407.90,380.31 L407.92,379.11 L407.90,377.98 L407.79,376.89 L407.56,375.84 L407.26,374.86 L406.91,373.96 L406.56,373.15 L406.24,372.45 L405.97,371.87 L405.79,371.42Z" fill="#6d6e70"/>
<path d="M346.55,382.40 L345.91,382.31 L345.09,382.17 L344.09,382.00 L342.96,381.82 L341.73,381.66 L340.42,381.55 L339.06,381.50 L337.70,381.55 L336.34,381.68 L334.90,381.85 L333.39,382.06 L331.84,382.34 L330.25,382.67 L328.65,383.09 L327.05,383.58 L325.48,384.16 L323.91,384.83 L322.32,385.59 L320.71,386.43 L319.11,387.34 L317.53,388.30 L316.01,389.32 L314.55,390.36 L313.19,391.43 L311.91,392.52 L310.68,393.66 L309.51,394.84 L308.40,396.05 L307.34,397.31 L306.35,398.61 L305.41,399.94 L304.53,401.32 L303.72,402.76 L302.99,404.26 L302.32,405.80 L301.72,407.37 L301.17,408.94 L300.65,410.51 L300.18,412.06 L299.72,413.59 L299.29,415.17 L298.92,416.81 L298.60,418.46 L298.31,420.08 L298.05,421.64 L297.80,423.10 L297.55,424.41 L297.31,425.54 L297.06,426.48 L296.83,427.25 L296.62,427.90 L296.41,428.46 L296.21,428.97 L296.00,429.48 L295.78,430.01 L295.56,430.58 L295.34,431.11 L295.09,431.60 L294.81,432.12 L294.51,432.66 L294.22,433.26 L293.96,433.93 L293.77,434.67 L293.68,435.44 L293.63,436.20 L293.58,437.02 L293.56,437.92 L293.61,438.88 L293.76,439.90 L294.07,440.94 L294.59,441.98 L295.30,442.92 L296.08,443.72 L296.92,444.47 L297.88,445.20 L298.99,445.89 L300.28,446.55 L301.78,447.17 L303.51,447.75 L305.52,448.30 L307.87,448.84 L310.58,449.35 L313.55,449.85 L316.72,450.32 L320.00,450.75 L323.31,451.13 L326.56,451.45 L329.68,451.70 L332.75,451.89 L335.90,452.03 L339.08,452.13 L342.24,452.17 L345.35,452.16 L348.36,452.08 L351.21,451.92 L353.88,451.69 L356.38,451.36 L358.78,450.93 L361.04,450.41 L363.16,449.84 L365.13,449.23 L366.94,448.60 L368.58,447.97 L370.07,447.36 L371.41,446.71 L372.57,445.98 L373.52,445.22 L374.30,444.48 L374.93,443.78 L375.44,443.17 L375.86,442.67 L376.22,442.30 L375.78,441.70 L375.29,441.96 L374.71,442.32 L374.04,442.72 L373.29,443.15 L372.43,443.59 L371.47,444.02 L370.38,444.44 L369.13,444.84 L367.66,445.26 L366.02,445.72 L364.24,446.20 L362.33,446.67 L360.29,447.12 L358.14,447.52 L355.89,447.86 L353.52,448.11 L350.98,448.28 L348.22,448.41 L345.29,448.48 L342.26,448.50 L339.15,448.47 L336.03,448.39 L332.93,448.27 L329.92,448.10 L326.87,447.88 L323.67,447.60 L320.41,447.26 L317.18,446.88 L314.06,446.46 L311.15,446.02 L308.52,445.56 L306.28,445.10 L304.43,444.62 L302.88,444.13 L301.59,443.62 L300.52,443.11 L299.62,442.58 L298.85,442.03 L298.14,441.46 L297.50,440.88 L297.01,440.35 L296.66,439.79 L296.38,439.17 L296.18,438.48 L296.05,437.74 L295.97,436.99 L295.94,436.24 L295.92,435.56 L295.95,435.04 L296.06,434.59 L296.23,434.15 L296.46,433.69 L296.74,433.20 L297.05,432.66 L297.37,432.06 L297.64,431.42 L297.87,430.85 L298.08,430.34 L298.29,429.82 L298.51,429.27 L298.74,428.64 L298.98,427.92 L299.23,427.07 L299.49,426.06 L299.76,424.86 L300.01,423.50 L300.26,422.02 L300.53,420.47 L300.81,418.87 L301.12,417.27 L301.48,415.71 L301.88,414.21 L302.33,412.72 L302.80,411.19 L303.30,409.66 L303.83,408.15 L304.41,406.65 L305.03,405.20 L305.72,403.81 L306.47,402.48 L307.28,401.19 L308.16,399.94 L309.10,398.72 L310.09,397.53 L311.14,396.39 L312.24,395.28 L313.40,394.20 L314.61,393.17 L315.90,392.16 L317.29,391.17 L318.75,390.21 L320.26,389.29 L321.79,388.42 L323.33,387.61 L324.85,386.88 L326.32,386.24 L327.77,385.70 L329.26,385.24 L330.77,384.85 L332.27,384.53 L333.76,384.25 L335.21,384.02 L336.60,383.82 L337.90,383.65 L339.14,383.52 L340.39,383.45 L341.63,383.44 L342.82,383.45 L343.94,383.50 L344.94,383.54 L345.79,383.58 L346.45,383.60Z" fill="#6d6e70"/>
<path d="M345.77,383.86 L345.61,384.24 L345.39,384.74 L345.12,385.34 L344.83,386.01 L344.53,386.71 L344.22,387.40 L343.93,388.07 L343.66,388.69 L343.41,389.26 L343.18,389.83 L342.96,390.38 L342.75,390.92 L342.52,391.46 L342.29,391.98 L342.03,392.50 L341.75,393.03 L341.42,393.57 L341.06,394.13 L340.68,394.69 L340.28,395.26 L339.87,395.82 L339.46,396.35 L339.07,396.86 L338.68,397.34 L338.31,397.80 L337.94,398.24 L337.58,398.67 L337.23,399.06 L336.90,399.41 L336.58,399.72 L336.29,399.96 L336.02,400.15 L335.77,400.29 L335.51,400.40 L335.25,400.47 L335.00,400.52 L334.76,400.54 L334.53,400.53 L334.33,400.50 L334.18,400.47 L334.05,400.41 L333.89,400.30 L333.72,400.12 L333.55,399.90 L333.38,399.65 L333.23,399.38 L333.09,399.11 L332.99,398.87 L332.91,398.64 L332.85,398.35 L332.82,398.02 L332.81,397.67 L332.81,397.33 L332.82,397.01 L332.83,396.74 L332.82,396.53 L332.38,396.47 L332.32,396.65 L332.24,396.90 L332.13,397.21 L332.02,397.56 L331.91,397.93 L331.83,398.33 L331.79,398.73 L331.81,399.13 L331.89,399.51 L331.99,399.88 L332.12,400.26 L332.29,400.64 L332.50,401.00 L332.75,401.35 L333.06,401.67 L333.42,401.93 L333.81,402.12 L334.22,402.24 L334.65,402.31 L335.10,402.33 L335.56,402.30 L336.03,402.21 L336.51,402.06 L336.98,401.85 L337.43,401.57 L337.87,401.25 L338.30,400.88 L338.72,400.48 L339.13,400.05 L339.53,399.60 L339.93,399.14 L340.32,398.66 L340.72,398.15 L341.13,397.61 L341.54,397.03 L341.96,396.43 L342.36,395.81 L342.75,395.19 L343.12,394.58 L343.45,393.97 L343.76,393.38 L344.04,392.79 L344.29,392.21 L344.53,391.64 L344.75,391.07 L344.95,390.49 L345.15,389.91 L345.34,389.31 L345.54,388.66 L345.74,387.93 L345.93,387.18 L346.10,386.43 L346.27,385.72 L346.41,385.08 L346.53,384.54 L346.63,384.14Z" fill="#6d6e70"/>
<path d="M332.77,389.71 L332.20,390.10 L331.44,390.59 L330.53,391.18 L329.51,391.85 L328.43,392.61 L327.33,393.44 L326.25,394.33 L325.24,395.28 L324.27,396.32 L323.27,397.45 L322.25,398.67 L321.25,399.94 L320.28,401.24 L319.36,402.53 L318.52,403.78 L317.79,404.98 L317.14,406.14 L316.53,407.30 L315.99,408.47 L315.51,409.62 L315.11,410.74 L314.80,411.83 L314.59,412.89 L314.50,413.93 L314.62,414.97 L314.97,415.91 L315.46,416.69 L315.99,417.34 L316.51,417.90 L316.95,418.38 L317.27,418.80 L317.50,419.22 L317.73,419.75 L317.99,420.34 L318.22,420.89 L318.41,421.41 L318.55,421.89 L318.62,422.32 L318.64,422.71 L318.58,423.10 L318.46,423.55 L318.26,424.05 L317.99,424.58 L317.66,425.12 L317.25,425.66 L316.78,426.19 L316.23,426.71 L315.61,427.22 L314.86,427.74 L313.96,428.29 L312.95,428.84 L311.88,429.38 L310.78,429.86 L309.70,430.28 L308.68,430.61 L307.76,430.84 L306.90,430.93 L306.00,430.93 L305.08,430.83 L304.16,430.67 L303.28,430.47 L302.45,430.25 L301.68,430.05 L301.04,429.89 L300.54,429.76 L300.15,429.63 L299.83,429.49 L299.55,429.35 L299.31,429.19 L299.09,429.04 L298.88,428.89 L298.70,428.77 L298.30,429.23 L298.41,429.37 L298.51,429.56 L298.66,429.81 L298.86,430.10 L299.14,430.42 L299.51,430.75 L299.99,431.05 L300.56,431.31 L301.21,431.55 L301.97,431.83 L302.83,432.11 L303.77,432.38 L304.78,432.61 L305.85,432.77 L306.94,432.83 L308.04,432.76 L309.17,432.56 L310.34,432.25 L311.55,431.85 L312.76,431.37 L313.94,430.85 L315.06,430.30 L316.08,429.74 L316.99,429.18 L317.79,428.60 L318.52,427.98 L319.17,427.32 L319.74,426.63 L320.23,425.93 L320.64,425.20 L320.97,424.47 L321.22,423.70 L321.35,422.89 L321.34,422.07 L321.22,421.30 L321.02,420.57 L320.77,419.89 L320.49,419.25 L320.21,418.64 L319.90,417.98 L319.47,417.27 L318.92,416.62 L318.38,416.08 L317.88,415.61 L317.47,415.17 L317.17,414.76 L316.98,414.36 L316.90,413.87 L316.93,413.18 L317.06,412.34 L317.30,411.41 L317.62,410.40 L318.02,409.33 L318.50,408.24 L319.03,407.13 L319.61,406.02 L320.28,404.88 L321.05,403.67 L321.92,402.42 L322.84,401.15 L323.79,399.89 L324.75,398.68 L325.68,397.55 L326.56,396.52 L327.43,395.56 L328.36,394.62 L329.33,393.71 L330.29,392.85 L331.19,392.06 L332.01,391.36 L332.71,390.76 L333.23,390.29Z" fill="#6d6e70"/>
<path d="M336.08,419.94 L337.02,419.83 L338.26,419.66 L339.74,419.47 L341.38,419.26 L343.11,419.04 L344.86,418.84 L346.55,418.67 L348.11,418.54 L349.60,418.45 L351.13,418.36 L352.68,418.29 L354.21,418.24 L355.73,418.21 L357.20,418.20 L358.61,418.21 L359.95,418.25 L361.23,418.31 L362.49,418.40 L363.72,418.51 L364.89,418.64 L366.00,418.79 L367.02,418.96 L367.94,419.15 L368.75,419.36 L369.48,419.58 L370.11,419.77 L370.63,419.96 L371.02,420.14 L371.29,420.33 L371.45,420.51 L371.55,420.74 L371.60,421.08 L371.58,421.58 L371.44,422.22 L371.20,422.98 L370.87,423.82 L370.46,424.71 L370.00,425.62 L369.49,426.52 L368.96,427.40 L368.40,428.28 L367.78,429.21 L367.11,430.15 L366.39,431.09 L365.63,432.01 L364.83,432.89 L364.00,433.71 L363.13,434.47 L362.21,435.19 L361.25,435.88 L360.25,436.53 L359.22,437.13 L358.14,437.69 L357.02,438.20 L355.83,438.66 L354.58,439.06 L353.21,439.41 L351.69,439.72 L350.07,439.98 L348.40,440.20 L346.72,440.36 L345.06,440.46 L343.49,440.51 L342.03,440.50 L340.65,440.43 L339.28,440.31 L337.95,440.14 L336.70,439.91 L335.53,439.64 L334.48,439.31 L333.58,438.96 L332.84,438.58 L332.25,438.17 L331.74,437.70 L331.30,437.17 L330.91,436.58 L330.59,435.94 L330.33,435.26 L330.13,434.55 L329.99,433.85 L329.94,433.16 L329.97,432.40 L330.08,431.57 L330.27,430.70 L330.53,429.79 L330.84,428.88 L331.19,427.96 L331.56,427.07 L332.00,426.16 L332.58,425.16 L333.27,424.11 L333.99,423.05 L334.71,422.05 L335.38,421.14 L335.94,420.37 L336.35,419.79 L335.65,419.21 L335.16,419.70 L334.48,420.35 L333.66,421.13 L332.76,422.01 L331.83,422.96 L330.93,423.94 L330.11,424.94 L329.44,425.93 L328.90,426.89 L328.41,427.87 L327.98,428.89 L327.60,429.93 L327.31,430.98 L327.10,432.04 L326.99,433.11 L327.01,434.15 L327.13,435.15 L327.34,436.14 L327.66,437.13 L328.09,438.10 L328.64,439.04 L329.34,439.93 L330.18,440.73 L331.16,441.42 L332.26,441.97 L333.46,442.41 L334.75,442.76 L336.12,443.03 L337.53,443.23 L338.99,443.37 L340.48,443.46 L341.97,443.50 L343.53,443.50 L345.20,443.44 L346.95,443.34 L348.72,443.18 L350.50,442.96 L352.23,442.69 L353.89,442.35 L355.42,441.94 L356.85,441.46 L358.19,440.91 L359.46,440.29 L360.65,439.62 L361.79,438.90 L362.86,438.14 L363.89,437.35 L364.87,436.53 L365.84,435.64 L366.76,434.69 L367.62,433.69 L368.42,432.66 L369.17,431.62 L369.86,430.59 L370.48,429.58 L371.04,428.60 L371.55,427.62 L372.03,426.60 L372.45,425.57 L372.82,424.55 L373.11,423.56 L373.32,422.62 L373.42,421.73 L373.40,420.92 L373.23,420.18 L372.91,419.55 L372.45,419.03 L371.91,418.64 L371.33,418.35 L370.69,418.10 L370.01,417.87 L369.25,417.64 L368.38,417.38 L367.40,417.14 L366.32,416.92 L365.17,416.71 L363.95,416.53 L362.69,416.37 L361.38,416.24 L360.05,416.15 L358.67,416.09 L357.22,416.05 L355.71,416.03 L354.16,416.05 L352.59,416.09 L351.01,416.17 L349.44,416.29 L347.89,416.46 L346.29,416.69 L344.58,417.01 L342.83,417.38 L341.12,417.78 L339.50,418.18 L338.05,418.54 L336.83,418.84 L335.92,419.06Z" fill="#6d6e70"/>
<path d="M344.6,421.0 L348.6,420.7 L347.2,424.3 L343.0,424.5 Z" fill="#6d6e70"/>
<path d="M350.7,420.5 L354.7,420.2 L353.3,423.8 L349.1,424.0 Z" fill="#6d6e70"/>
<path d="M356.8,420.0 L360.8,419.7 L359.4,423.3 L355.2,423.5 Z" fill="#6d6e70"/>
<path d="M362.9,419.5 L366.9,419.2 L365.5,422.8 L361.3,423.0 Z" fill="#6d6e70"/>
<path d="M339.1,426.8 L343.1,426.5 L341.7,430.1 L337.5,430.3 Z" fill="#6d6e70"/>
<path d="M345.2,426.3 L349.2,426.0 L347.8,429.6 L343.6,429.8 Z" fill="#6d6e70"/>
<path d="M351.3,425.8 L355.3,425.5 L353.9,429.1 L349.7,429.3 Z" fill="#6d6e70"/>
<path d="M357.4,425.3 L361.4,425.0 L360.0,428.6 L355.8,428.8 Z" fill="#6d6e70"/>
<path d="M333.6,432.5 L337.6,432.2 L336.2,435.8 L332.0,436.0 Z" fill="#6d6e70"/>
<path d="M339.7,432.0 L343.7,431.7 L342.3,435.3 L338.1,435.5 Z" fill="#6d6e70"/>
<path d="M345.8,431.5 L349.8,431.2 L348.4,434.8 L344.2,435.0 Z" fill="#6d6e70"/>
<path d="M351.9,431.0 L355.9,430.7 L354.5,434.3 L350.3,434.5 Z" fill="#6d6e70"/>
<path d="M408.32,394.45 L408.51,394.82 L408.77,395.25 L409.05,395.72 L409.30,396.23 L409.49,396.76 L409.62,397.30 L409.71,397.90 L409.77,398.64 L409.82,399.68 L409.88,400.98 L409.93,402.46 L409.93,404.05 L409.90,405.72 L409.80,407.40 L409.63,409.05 L409.38,410.62 L409.06,412.17 L408.69,413.74 L408.27,415.31 L407.79,416.88 L407.22,418.43 L406.57,419.96 L405.81,421.45 L404.93,422.91 L403.91,424.34 L402.72,425.78 L401.42,427.20 L400.01,428.61 L398.54,430.00 L397.03,431.34 L395.52,432.65 L394.04,433.90 L392.53,435.09 L390.94,436.24 L389.30,437.35 L387.64,438.43 L386.00,439.47 L384.43,440.48 L382.97,441.45 L381.67,442.39 L380.49,443.31 L379.40,444.22 L378.40,445.10 L377.49,445.93 L376.68,446.69 L375.98,447.36 L375.39,447.93 L374.91,448.37 L375.29,448.83 L375.82,448.45 L376.48,447.96 L377.26,447.38 L378.15,446.72 L379.13,446.01 L380.20,445.24 L381.34,444.44 L382.53,443.61 L383.84,442.75 L385.30,441.84 L386.88,440.88 L388.54,439.86 L390.23,438.79 L391.93,437.67 L393.59,436.51 L395.16,435.30 L396.70,434.05 L398.25,432.76 L399.81,431.41 L401.34,430.01 L402.82,428.58 L404.22,427.11 L405.51,425.61 L406.67,424.09 L407.68,422.54 L408.57,420.95 L409.34,419.33 L410.03,417.69 L410.62,416.05 L411.14,414.42 L411.61,412.79 L412.02,411.18 L412.39,409.51 L412.70,407.75 L412.95,405.96 L413.13,404.20 L413.23,402.50 L413.25,400.90 L413.19,399.45 L413.03,398.16 L412.69,397.00 L412.14,396.03 L411.48,395.31 L410.79,394.81 L410.15,394.48 L409.60,394.27 L409.17,394.12 L408.88,393.95Z" fill="#6d6e70"/>
<path d="M408.32,393.95 L407.63,394.67 L406.71,395.61 L405.61,396.73 L404.39,397.98 L403.11,399.30 L401.81,400.65 L400.56,401.97 L399.41,403.21 L398.32,404.38 L397.20,405.55 L396.08,406.72 L394.95,407.92 L393.85,409.15 L392.78,410.40 L391.75,411.70 L390.80,413.04 L389.92,414.43 L389.12,415.87 L388.38,417.33 L387.69,418.80 L387.04,420.26 L386.41,421.69 L385.81,423.07 L385.21,424.41 L384.61,425.72 L384.05,427.03 L383.52,428.31 L383.01,429.56 L382.51,430.76 L382.02,431.92 L381.53,433.02 L381.02,434.07 L380.52,435.08 L380.05,436.03 L379.59,436.93 L379.14,437.77 L378.67,438.57 L378.17,439.33 L377.62,440.07 L377.00,440.81 L376.30,441.55 L375.55,442.28 L374.76,442.99 L373.93,443.68 L373.07,444.32 L372.18,444.93 L371.25,445.49 L370.29,446.00 L369.28,446.46 L368.21,446.88 L367.09,447.26 L365.93,447.61 L364.74,447.92 L363.51,448.20 L362.27,448.44 L361.04,448.66 L359.71,448.84 L358.22,448.97 L356.63,449.06 L355.02,449.13 L353.48,449.17 L352.08,449.19 L350.90,449.22 L350.02,449.25 L349.98,450.75 L350.85,450.82 L352.01,450.94 L353.41,451.08 L354.97,451.22 L356.61,451.35 L358.27,451.42 L359.88,451.43 L361.36,451.34 L362.73,451.16 L364.07,450.93 L365.40,450.64 L366.69,450.29 L367.96,449.90 L369.19,449.45 L370.37,448.95 L371.51,448.40 L372.60,447.80 L373.64,447.13 L374.62,446.41 L375.55,445.65 L376.44,444.86 L377.27,444.05 L378.06,443.22 L378.80,442.39 L379.50,441.55 L380.12,440.69 L380.69,439.82 L381.21,438.94 L381.70,438.04 L382.18,437.11 L382.67,436.15 L383.18,435.13 L383.70,434.03 L384.22,432.88 L384.72,431.69 L385.23,430.47 L385.74,429.22 L386.26,427.96 L386.81,426.69 L387.39,425.39 L388.00,424.05 L388.62,422.66 L389.24,421.24 L389.89,419.81 L390.56,418.40 L391.26,417.00 L392.01,415.66 L392.80,414.36 L393.67,413.12 L394.62,411.90 L395.63,410.69 L396.68,409.49 L397.77,408.29 L398.86,407.07 L399.94,405.84 L400.99,404.59 L402.05,403.26 L403.18,401.83 L404.33,400.36 L405.46,398.90 L406.52,397.52 L407.47,396.27 L408.28,395.23 L408.88,394.45Z" fill="#6d6e70"/>
<!-- /DEVICES -->
<g fill="#747476">
  <rect x="238.7" y="99.1" width="5.3" height="5" /><rect x="249.5" y="99.1" width="5" height="5" /><rect x="260.3" y="99.1" width="5.3" height="5" /><rect x="271.2" y="99.1" width="5.3" height="5" /><rect x="282" y="99.1" width="5.3" height="5" />
  <rect x="238.7" y="107.8" width="5.3" height="4.5" /><rect x="249.5" y="107.8" width="5" height="4.5" /><rect x="260.3" y="107.8" width="5.3" height="4.5" /><rect x="271.2" y="107.8" width="5.3" height="4.5" /><rect x="282" y="107.8" width="5.3" height="4.5" />
  <rect x="301.5" y="99.1" width="5.3" height="5" /><rect x="312.3" y="99.1" width="5.3" height="5" /><rect x="323.2" y="99.1" width="5.3" height="5" /><rect x="333.6" y="99.1" width="5.3" height="5" /><rect x="344.4" y="99.1" width="5.3" height="5" />
  <rect x="301.5" y="107.8" width="5.3" height="4.5" /><rect x="312.3" y="107.8" width="5.3" height="4.5" /><rect x="323.2" y="107.8" width="5.3" height="4.5" /><rect x="333.6" y="107.8" width="5.3" height="4.5" /><rect x="344.4" y="107.8" width="5.3" height="4.5" />
</g>

<!-- injectors -->
<use href="#inj"/>
<use href="#inj" x="123.5" y="0"/>
<use href="#inj" x="232.5" y="0"/>

<!-- blue data lines -->
<g fill="none" stroke="#22508f" stroke-width="1.6" stroke-linejoin="round">
  <path d="M241.3,111.2 L175.5,158 L185.8,253"/>
  <path d="M274.7,111.2 L281.2,151 L309.5,253"/>
  <path d="M348.6,109.5 L402.5,160 L418.5,253"/>
</g>
<!-- red power+data lines -->
<g fill="none" stroke="#d91f2b" stroke-width="1.5" stroke-linejoin="round">
  <path d="M169.5,261.8 L90.2,289.6 L90.2,351"/>
  <path d="M293,261.8 L208.4,289.6 L208.2,402"/>
  <path d="M401.8,261.5 L352,289.6 L352.5,376"/>
</g>

<!-- labels -->
<g font-size="14.5">
<text x="300.2" y="64" textLength="96" lengthAdjust="spacingAndGlyphs">Ethernet Switch</text>
<text x="24" y="95" textLength="27" lengthAdjust="spacingAndGlyphs">UPS</text>
<text x="452.3" y="254.5" textLength="83.5" lengthAdjust="spacingAndGlyphs">PowerDsine®</text>
<text x="452.3" y="268.7" textLength="76" lengthAdjust="spacingAndGlyphs">PD-9001GR</text>
<text x="506.2" y="313" textLength="84.5" lengthAdjust="spacingAndGlyphs">Power &amp; Data</text>
<text x="506.2" y="331" textLength="28.5" lengthAdjust="spacingAndGlyphs">Data</text>
<text x="506.2" y="348.7" textLength="39" lengthAdjust="spacingAndGlyphs">Power</text>
<text x="46.5" y="478" textLength="34.5" lengthAdjust="spacingAndGlyphs">P-T-Z</text>
<text x="39" y="492" textLength="49.5" lengthAdjust="spacingAndGlyphs">Camera</text>
<text x="182" y="478" textLength="52.5" lengthAdjust="spacingAndGlyphs">802.11n</text>
<text x="167.5" y="492" textLength="81" lengthAdjust="spacingAndGlyphs">Access Point</text>
<text x="323.8" y="476.8" textLength="51.5" lengthAdjust="spacingAndGlyphs">IP Video</text>
<text x="329.5" y="490.5" textLength="40.3" lengthAdjust="spacingAndGlyphs">Phone</text>
</g>


<!-- legend -->
<rect x="450.7" y="305.5" width="46" height="4" fill="#d3202f"/>
<rect x="450.7" y="322.8" width="46" height="4" fill="#1c3a6e"/>
<rect x="450.7" y="341.5" width="46" height="4" fill="#e8803a"/>

</svg>
</body></html>
